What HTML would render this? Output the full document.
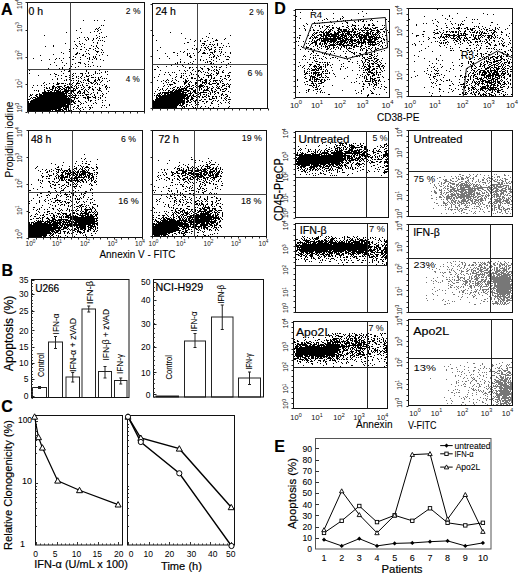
<!DOCTYPE html>
<html><head><meta charset="utf-8"><style>
html,body{margin:0;padding:0;background:#fff;width:520px;height:574px;overflow:hidden}
svg{display:block}
text{font-family:"Liberation Sans",sans-serif}
</style></head><body>
<svg width="520" height="574" viewBox="0 0 520 574">
<path d="M459 174h2m8 0h1m3 0h1m3 0h1m2 0h1m13 0h1m1 0h1m7 0h1M462 175h2m6 0h1m5 0h1m7 0h1m3 0h1m15 0h2m2 0h1M432 176h1m1 0h1m9 0h1m6 0h1m3 0h1m2 0h1m1 0h1m5 0h1m2 0h1m5 0h2m15 0h1m4 0h3M431 177h1m7 0h2m15 0h1m4 0h2m3 0h3m4 0h1m9 0h1m4 0h2m1 0h1m2 0h1m2 0h1m1 0h1m10 0h1M437 178h1m14 0h2m2 0h1m1 0h1m2 0h3m1 0h1m1 0h1m2 0h1m1 0h2m10 0h1m2 0h1m1 0h2m1 0h1m9 0h1m1 0h2M443 179h1m1 0h2m3 0h1m7 0h2m1 0h3m4 0h1m4 0h1m4 0h1m3 0h2m2 0h1m5 0h1m2 0h1m1 0h1m2 0h1m4 0h3M444 180h3m3 0h2m5 0h1m9 0h2m3 0h1m5 0h1m3 0h2m3 0h1m1 0h1m1 0h1m1 0h2m2 0h1m1 0h1m1 0h2m2 0h1M439 181h1m5 0h4m3 0h2m1 0h2m4 0h2m2 0h2m1 0h1m3 0h1m3 0h1m1 0h1m1 0h1m6 0h1m2 0h1m3 0h3m5 0h2m1 0h1m3 0h1m1 0h1M432 182h1m8 0h1m2 0h2m3 0h2m8 0h2m4 0h3m1 0h1m5 0h1m3 0h1m2 0h4m3 0h1m7 0h3m1 0h2m3 0h1m1 0h1m2 0h1M430 183h1m7 0h1m2 0h1m1 0h2m3 0h1m1 0h5m3 0h1m2 0h4m1 0h1m1 0h1m1 0h1m1 0h1m12 0h1m2 0h1m9 0h2m1 0h2m1 0h1m1 0h2m1 0h2M434 184h1m6 0h1m6 0h1m3 0h3m1 0h3m1 0h3m1 0h4m1 0h1m1 0h1m1 0h2m1 0h2m1 0h1m3 0h1m8 0h11M434 185h1m4 0h1m3 0h1m3 0h1m2 0h1m5 0h2m1 0h12m2 0h1m1 0h2m1 0h1m1 0h1m5 0h1m3 0h1m1 0h3m1 0h2m2 0h1m2 0h6M435 186h1m4 0h2m3 0h1m1 0h2m1 0h2m2 0h1m1 0h1m1 0h1m1 0h2m1 0h1m1 0h5m3 0h5m2 0h2m6 0h2m3 0h2m1 0h8m2 0h1m1 0h1m1 0h1M433 187h1m2 0h1m7 0h1m5 0h4m3 0h1m2 0h11m1 0h1m1 0h1m2 0h14m1 0h1m1 0h3m1 0h4m3 0h2m1 0h1m1 0h1M436 188h1m6 0h1m1 0h1m1 0h2m3 0h4m1 0h1m2 0h5m3 0h15m4 0h1m1 0h3m1 0h5m4 0h4m2 0h3M439 189h1m1 0h1m5 0h1m2 0h5m2 0h16m1 0h2m1 0h2m3 0h2m3 0h2m1 0h1m1 0h2m2 0h3m2 0h2m2 0h2m1 0h4M434 190h1m4 0h3m2 0h1m3 0h1m1 0h2m1 0h6m2 0h5m2 0h8m2 0h3m3 0h2m2 0h2m2 0h1m2 0h3m1 0h7m4 0h1M431 191h1m2 0h2m5 0h1m7 0h4m1 0h3m1 0h6m1 0h2m1 0h7m6 0h1m4 0h1m2 0h2m2 0h6m1 0h2m1 0h4m2 0h3M434 192h3m3 0h2m2 0h1m1 0h3m1 0h1m2 0h1m2 0h1m3 0h3m1 0h9m1 0h1m1 0h2m1 0h1m2 0h1m1 0h1m1 0h2m2 0h4m1 0h2m4 0h3m2 0h1m3 0h2M435 193h2m4 0h1m1 0h1m2 0h1m4 0h2m1 0h1m1 0h3m2 0h6m1 0h4m1 0h2m1 0h4m2 0h3m3 0h1m1 0h2m2 0h1m1 0h2m2 0h4m4 0h2M440 194h2m3 0h1m2 0h1m1 0h6m1 0h8m1 0h9m2 0h4m5 0h1m1 0h1m4 0h6m1 0h2m1 0h1m1 0h1m1 0h1M431 195h1m10 0h1m4 0h2m2 0h5m1 0h2m1 0h10m1 0h1m1 0h2m2 0h1m3 0h3m1 0h1m1 0h3m2 0h1m1 0h1m1 0h3m1 0h1m3 0h1m1 0h2m1 0h2M439 196h2m2 0h1m2 0h7m2 0h2m1 0h16m1 0h2m1 0h3m1 0h1m2 0h2m1 0h1m2 0h1m1 0h2m1 0h5m1 0h2m7 0h1M436 197h1m2 0h3m2 0h1m1 0h4m1 0h1m1 0h2m1 0h9m1 0h5m2 0h3m1 0h2m2 0h1m2 0h1m1 0h1m5 0h1m1 0h1m1 0h1m2 0h1m2 0h3m3 0h1m1 0h1M431 198h2m13 0h6m1 0h2m1 0h2m2 0h2m1 0h2m1 0h3m1 0h2m1 0h1m3 0h1m2 0h3m1 0h2m2 0h1m1 0h1m6 0h4m1 0h1m1 0h1m1 0h1m1 0h2M436 199h1m4 0h1m1 0h1m2 0h2m2 0h1m1 0h1m1 0h1m7 0h4m2 0h3m1 0h1m1 0h3m1 0h5m2 0h1m4 0h2m2 0h4m1 0h3m1 0h1m2 0h3m1 0h1M447 200h1m3 0h3m1 0h2m1 0h1m2 0h5m1 0h2m1 0h3m2 0h4m1 0h4m1 0h1m5 0h1m3 0h6m2 0h6m2 0h1M443 201h1m4 0h1m2 0h1m1 0h3m2 0h2m1 0h7m3 0h2m1 0h2m2 0h1m1 0h2m7 0h2m3 0h7m1 0h2m1 0h3m1 0h1m1 0h1M434 202h1m8 0h2m2 0h1m1 0h1m1 0h2m1 0h2m1 0h1m1 0h3m1 0h1m2 0h1m1 0h2m2 0h1m1 0h1m1 0h2m1 0h1m2 0h1m5 0h2m3 0h2m1 0h2m1 0h3m4 0h4M436 203h2m5 0h4m3 0h1m1 0h1m2 0h1m1 0h2m2 0h4m1 0h2m1 0h1m2 0h4m2 0h1m1 0h1m1 0h1m5 0h1m1 0h3m1 0h3m3 0h1m1 0h1m1 0h2m1 0h3M445 204h1m1 0h1m3 0h1m1 0h2m4 0h1m1 0h1m3 0h1m5 0h1m3 0h1m2 0h1m1 0h1m2 0h2m8 0h1m4 0h1m1 0h1m9 0h2M438 205h1m2 0h1m1 0h1m1 0h2m4 0h1m3 0h1m2 0h2m4 0h2m1 0h1m1 0h1m9 0h1m6 0h2m1 0h1m2 0h1m1 0h2m2 0h3m7 0h1M451 206h1m3 0h1m3 0h1m6 0h1m7 0h1m1 0h3m2 0h1m4 0h1m2 0h1m2 0h1m1 0h1m3 0h2m2 0h1M445 207h1m3 0h1m1 0h1m3 0h3m7 0h4m10 0h1m4 0h1m2 0h1m6 0h3m1 0h2m1 0h1m1 0h1m7 0h1M433 208h1m14 0h1m8 0h1m2 0h2m1 0h1m8 0h1m1 0h1m1 0h1m3 0h1m6 0h1m3 0h2m1 0h1m3 0h2m3 0h2m2 0h3M445 209h1m2 0h1m1 0h3m1 0h2m1 0h1m1 0h1m2 0h1m1 0h3m13 0h1m1 0h1m9 0h1m1 0h1m1 0h1m2 0h3m1 0h1m1 0h3m1 0h1m1 0h1M451 210h1m6 0h1m2 0h2m6 0h1m22 0h1m1 0h1m6 0h1m2 0h2M459 211h1m1 0h1m9 0h1m3 0h1m3 0h1m3 0h1m4 0h2m7 0h1m3 0h1m3 0h1m2 0h1M455 212h1m7 0h2m9 0h1m9 0h1m6 0h1m5 0h1m1 0h2m4 0h1M441 213h1m4 0h1m6 0h1m7 0h1m4 0h2m5 0h1m1 0h1m17 0h1m1 0h1m6 0h1m3 0h2m2 0h1M453 261h1m1 0h1m3 0h1m28 0h1m2 0h1m6 0h1m5 0h1M447 262h1m2 0h1m10 0h2m1 0h1m8 0h3m2 0h1m1 0h1m1 0h1m1 0h1m2 0h3m5 0h1m4 0h1m4 0h1m2 0h1M433 263h1m17 0h1m10 0h1m2 0h1m9 0h1m5 0h1m1 0h3m3 0h1m3 0h2m2 0h1m2 0h2m2 0h1m1 0h1m4 0h1M435 264h1m7 0h1m11 0h1m3 0h1m2 0h1m2 0h1m3 0h1m2 0h2m2 0h1m2 0h2m1 0h1m1 0h2m1 0h1m5 0h2m2 0h1m1 0h1m1 0h4m2 0h1m3 0h1M427 265h2m22 0h1m6 0h1m5 0h2m2 0h2m1 0h3m1 0h1m3 0h3m4 0h2m2 0h2m2 0h2m3 0h2m1 0h1m1 0h1m1 0h1m1 0h3M440 266h1m2 0h1m3 0h1m5 0h1m3 0h1m1 0h1m4 0h1m13 0h2m1 0h1m2 0h1m4 0h4m6 0h2m4 0h2m1 0h1M427 267h1m20 0h1m12 0h1m2 0h1m5 0h1m3 0h1m1 0h1m3 0h3m1 0h2m3 0h1m1 0h1m2 0h1m1 0h2m1 0h1m2 0h1m1 0h1m1 0h1m2 0h2M429 268h1m6 0h1m15 0h1m7 0h1m2 0h1m3 0h1m5 0h1m1 0h1m1 0h2m1 0h1m2 0h3m1 0h2m1 0h1m3 0h1m1 0h2m2 0h5m1 0h1m1 0h2M432 269h1m6 0h1m7 0h1m1 0h1m1 0h1m5 0h1m8 0h1m2 0h1m1 0h2m4 0h2m1 0h3m3 0h2m4 0h1m1 0h1m1 0h2m1 0h1m3 0h4m1 0h1M451 270h1m1 0h1m5 0h1m1 0h1m5 0h2m2 0h1m1 0h3m3 0h3m2 0h4m1 0h1m1 0h1m2 0h1m1 0h5m1 0h5M434 271h2m13 0h1m4 0h1m6 0h3m2 0h2m3 0h1m1 0h1m1 0h1m2 0h1m1 0h4m4 0h2m5 0h5m1 0h1m1 0h2m1 0h2m1 0h3M435 272h1m4 0h1m1 0h1m1 0h2m3 0h2m4 0h1m5 0h1m10 0h2m2 0h3m2 0h1m2 0h7m1 0h2m1 0h3m2 0h4m2 0h1m1 0h2m1 0h1M443 273h1m12 0h1m3 0h1m5 0h2m2 0h1m1 0h5m3 0h1m1 0h1m1 0h1m1 0h2m1 0h8m1 0h2m1 0h5m1 0h2m2 0h1M450 274h2m3 0h1m2 0h1m2 0h1m1 0h1m4 0h1m1 0h1m5 0h9m3 0h2m1 0h1m1 0h1m2 0h6m1 0h8M442 275h1m14 0h1m6 0h1m7 0h1m2 0h2m1 0h2m2 0h1m1 0h1m2 0h5m1 0h2m2 0h3m1 0h9m1 0h1M443 276h1m10 0h1m2 0h2m10 0h1m1 0h1m2 0h3m1 0h1m2 0h1m1 0h1m2 0h1m1 0h2m1 0h4m1 0h2m1 0h9m1 0h2M426 277h1m10 0h1m8 0h1m2 0h1m2 0h1m4 0h2m1 0h3m1 0h1m4 0h1m1 0h1m2 0h1m1 0h2m1 0h1m1 0h3m1 0h2m4 0h20M433 278h1m24 0h1m1 0h1m2 0h2m4 0h1m1 0h2m2 0h4m7 0h1m2 0h22M446 279h2m1 0h1m2 0h1m1 0h1m3 0h2m4 0h1m2 0h2m2 0h1m2 0h4m3 0h3m1 0h2m4 0h21M431 280h1m3 0h1m6 0h1m7 0h1m3 0h1m1 0h3m1 0h1m1 0h1m2 0h2m2 0h2m5 0h2m3 0h2m1 0h2m2 0h1m1 0h2m1 0h17m1 0h1M433 281h1m2 0h1m5 0h1m5 0h2m1 0h1m11 0h5m1 0h2m1 0h2m1 0h1m2 0h4m1 0h3m1 0h25M426 282h1m11 0h1m1 0h1m11 0h1m3 0h3m6 0h3m2 0h1m4 0h1m1 0h2m1 0h1m1 0h1m1 0h1m2 0h4m2 0h17M433 283h1m14 0h1m4 0h2m8 0h1m1 0h2m2 0h1m2 0h2m1 0h5m1 0h1m3 0h1m1 0h6m1 0h2m1 0h13m1 0h1M450 284h1m11 0h1m1 0h2m3 0h1m5 0h1m1 0h2m1 0h1m1 0h1m2 0h4m5 0h2m1 0h15M448 285h1m2 0h2m12 0h1m1 0h1m2 0h2m1 0h1m1 0h3m1 0h1m1 0h1m4 0h1m1 0h1m2 0h2m1 0h18M450 286h1m5 0h1m1 0h1m2 0h1m1 0h1m5 0h3m2 0h1m3 0h1m1 0h2m1 0h5m3 0h1m2 0h17M434 287h1m15 0h2m2 0h1m2 0h1m2 0h1m2 0h1m6 0h2m2 0h1m5 0h1m1 0h1m6 0h1m3 0h2m1 0h16M448 288h1m9 0h1m9 0h1m2 0h1m8 0h1m7 0h1m2 0h5m1 0h15M432 289h1m6 0h1m16 0h1m8 0h1m9 0h1m1 0h1m2 0h1m1 0h7m1 0h2m1 0h1m2 0h15M437 290h1m4 0h1m2 0h1m15 0h1m1 0h2m2 0h1m3 0h1m4 0h1m2 0h1m2 0h2m2 0h1m5 0h1m1 0h1m1 0h13m1 0h2M435 291h1m23 0h1m2 0h2m10 0h3m6 0h1m1 0h1m2 0h1m2 0h2m3 0h15M452 292h1m6 0h1m2 0h2m6 0h2m1 0h1m1 0h1m2 0h1m2 0h1m1 0h2m2 0h1m3 0h4m2 0h14M432 293h1m12 0h1m19 0h1m1 0h1m2 0h1m7 0h1m6 0h2m5 0h1m1 0h4m1 0h11m1 0h1M433 294h1m19 0h2m7 0h1m6 0h1m4 0h1m4 0h1m7 0h1m4 0h1m4 0h9m1 0h3M426 295h1m10 0h1m34 0h1m2 0h1m6 0h1m9 0h2m1 0h1m1 0h2m1 0h1m1 0h3m1 0h2m1 0h1m1 0h1M458 296h1m3 0h1m10 0h2m14 0h1m4 0h12m2 0h2m1 0h1M461 297h1m5 0h1m5 0h1m17 0h1m3 0h1m1 0h1m1 0h2m2 0h7m1 0h1M426 298h1m49 0h1m10 0h1m3 0h1m2 0h1m2 0h2m1 0h2m1 0h2m1 0h2m2 0h2M433 299h1m9 0h1m16 0h1m23 0h2m5 0h1m2 0h1m3 0h2m1 0h4m2 0h3M427 300h1m14 0h1m5 0h1m32 0h1m16 0h1m1 0h1m1 0h3m1 0h6M445 301h1m6 0h1m1 0h1m28 0h2m2 0h1m4 0h1m2 0h2m1 0h1m1 0h2m1 0h1m2 0h2M469 302h1m20 0h1m4 0h3m2 0h1m1 0h1m1 0h2m3 0h1M447 303h1m1 0h1m30 0h1m11 0h7m1 0h1m1 0h1m1 0h2m1 0h2M444 304h2m28 0h2m17 0h1m3 0h1m1 0h1m1 0h1m1 0h2m1 0h1M467 362h1m34 0h1m8 0h1M473 363h2m7 0h1m16 0h1M450 364h1m31 0h1m9 0h1m3 0h1m10 0h1m1 0h1M460 365h1m19 0h1m11 0h2m7 0h1m4 0h1m1 0h1M444 366h1m3 0h1m15 0h1m19 0h1m7 0h1m7 0h1m5 0h1M456 367h1m11 0h1m5 0h2m8 0h1m12 0h1m1 0h1m7 0h1m1 0h3M451 368h2m27 0h1m2 0h1m2 0h1m2 0h1m5 0h1m2 0h2m1 0h1m4 0h2M446 369h1m10 0h1m6 0h1m13 0h1m11 0h1m11 0h1m4 0h1M446 370h1m21 0h1m4 0h2m4 0h1m10 0h1m7 0h3m2 0h5M457 371h1m1 0h1m2 0h1m10 0h1m15 0h2m1 0h3m2 0h1m1 0h1m1 0h1m2 0h2m2 0h2M452 372h1m8 0h1m7 0h1m8 0h1m3 0h1m1 0h1m1 0h1m8 0h2m4 0h2m4 0h4M464 373h1m29 0h1m2 0h3m1 0h2m3 0h1m2 0h2M461 374h1m9 0h1m1 0h1m5 0h1m6 0h1m4 0h1m9 0h5m1 0h2m2 0h1M455 375h1m2 0h1m7 0h1m3 0h1m9 0h1m2 0h1m8 0h3m4 0h2m4 0h6M455 376h1m4 0h1m16 0h1m5 0h1m7 0h1m4 0h1m3 0h2m1 0h1m1 0h1M464 377h1m6 0h1m1 0h1m12 0h1m3 0h1m5 0h2m2 0h4m1 0h1m1 0h2m1 0h1M430 378h1m32 0h1m3 0h1m4 0h1m1 0h1m4 0h1m10 0h1m7 0h1m2 0h3m1 0h3m1 0h2M446 379h1m26 0h2m7 0h1m8 0h1m2 0h2m3 0h4m1 0h4m1 0h1M458 380h1m9 0h1m3 0h1m2 0h2m7 0h1m6 0h1m3 0h4m1 0h7m1 0h1m1 0h1M456 381h1m5 0h1m2 0h2m4 0h1m4 0h1m3 0h1m4 0h1m2 0h1m5 0h1m1 0h5m2 0h4m1 0h1m1 0h1M456 382h1m1 0h1m11 0h1m13 0h1m4 0h1m2 0h1m2 0h8m1 0h2m1 0h5M456 383h1m7 0h1m5 0h1m6 0h2m5 0h1m7 0h3m3 0h5m1 0h3m1 0h1m1 0h2M451 384h1m11 0h1m1 0h1m8 0h1m4 0h1m1 0h1m6 0h1m7 0h1m1 0h9m2 0h3M458 385h1m2 0h1m11 0h1m5 0h1m8 0h1m4 0h1m1 0h1m1 0h1m2 0h9m1 0h2M455 386h1m8 0h2m6 0h1m3 0h1m2 0h2m5 0h1m1 0h1m1 0h2m1 0h9m1 0h9M469 387h1m8 0h1m5 0h1m4 0h1m2 0h1m3 0h1m2 0h4m1 0h8M471 388h1m1 0h1m12 0h1m1 0h1m1 0h1m3 0h2m3 0h13M455 389h1m1 0h1m14 0h2m1 0h1m2 0h1m8 0h1m2 0h1m1 0h1m7 0h2m1 0h5m1 0h3M448 390h1m4 0h1m5 0h1m8 0h1m4 0h2m1 0h1m1 0h1m1 0h1m2 0h1m9 0h1m1 0h2m1 0h11m1 0h1M479 391h1m1 0h1m1 0h1m5 0h4m3 0h2m1 0h12M451 392h2m3 0h1m1 0h2m8 0h1m7 0h1m5 0h1m2 0h1m2 0h2m2 0h1m1 0h1m1 0h1m3 0h10m1 0h1M454 393h1m17 0h1m11 0h3m4 0h1m1 0h1m1 0h3m1 0h13M467 394h1m8 0h1m6 0h1m3 0h1m2 0h2m4 0h16M454 395h1m17 0h1m12 0h1m5 0h1m4 0h6m1 0h6m2 0h1M459 396h1m5 0h1m1 0h1m19 0h1m5 0h1m1 0h1m1 0h3m2 0h5m2 0h1m1 0h1M444 397h1m18 0h1m2 0h1m13 0h1m13 0h1m1 0h4m2 0h10M450 398h1m10 0h1m2 0h1m4 0h1m13 0h1m1 0h1m1 0h1m4 0h2m4 0h2m1 0h8m1 0h2M464 399h1m8 0h1m3 0h1m8 0h1m2 0h2m1 0h1m2 0h5m1 0h1m2 0h2m2 0h4M446 400h1m4 0h1m27 0h1m6 0h1m6 0h1m3 0h1m1 0h2m1 0h10M452 401h1m16 0h1m12 0h1m12 0h1m1 0h2m1 0h1m1 0h2m1 0h3m1 0h1m1 0h1M462 402h2m9 0h1m2 0h1m5 0h2m12 0h2m2 0h1m3 0h5m2 0h1M447 403h1m3 0h1m21 0h1m11 0h1m12 0h1m1 0h7m1 0h3M461 404h1m3 0h1m8 0h1m12 0h1m5 0h1m2 0h2m2 0h2m1 0h1m2 0h2m1 0h1" stroke="#777" stroke-width="1" fill="none" transform="translate(0,0.5)" shape-rendering="crispEdges"/>
<path d="M437 9h1M312 10h1M362 11h1M300 12h1M333 13h1m24 0h1m7 0h1m90 0h1m25 0h1M487 14h1m5 0h1M442 15h1m6 0h1M296 16h1m45 0h1m20 0h1m60 0h1m24 0h1M343 17h1m122 0h1M300 18h1m25 0h1m6 0h1m6 0h1m1 0h1m102 0h1m6 0h1M324 19h1m2 0h1m12 0h1m10 0h1m19 0h1m14 0h1m22 0h1m25 0h1m11 0h1m24 0h1m1 0h1m2 0h1M83 20h1m10 0h1m2 0h1m6 0h1m213 0h1m3 0h1m14 0h1m5 0h1m1 0h1m1 0h1m10 0h1m1 0h1m2 0h1m6 0h1m1 0h1m59 0h1m31 0h1M330 21h1m10 0h1m3 0h1m8 0h1m3 0h1m3 0h2m2 0h1m10 0h1m10 0h1m48 0h1m12 0h1m11 0h1M314 22h1m7 0h1m1 0h1m6 0h1m14 0h2m7 0h1m82 0h1m33 0h1m18 0h2M306 23h1m8 0h1m1 0h1m1 0h1m14 0h1m7 0h1m4 0h1m24 0h1m50 0h1m2 0h1m6 0h1m11 0h1m5 0h1m3 0h1m5 0h1m17 0h1m31 0h1M307 24h1m44 0h1m11 0h1m3 0h2m3 0h1m42 0h1m35 0h1m5 0h1m1 0h1m1 0h2m33 0h1M101 25h1m1 0h1m199 0h1m11 0h1m3 0h1m4 0h1m4 0h1m2 0h1m14 0h1m4 0h4m2 0h1m5 0h1m3 0h2m2 0h3m7 0h1m1 0h1m31 0h1m19 0h1m9 0h1m11 0h1m1 0h1m29 0h1m18 0h1M304 26h1m14 0h1m2 0h1m3 0h3m13 0h2m4 0h1m2 0h1m3 0h1m7 0h1m73 0h1m36 0h1m1 0h1m1 0h1m3 0h1M99 27h1m212 0h1m9 0h1m4 0h1m1 0h1m2 0h2m2 0h1m2 0h1m6 0h2m6 0h1m8 0h1m1 0h1m1 0h1m4 0h1m2 0h3m6 0h1m61 0h2m5 0h1m4 0h2m6 0h2m10 0h1m6 0h1m9 0h1m3 0h1M80 28h1m15 0h1m1 0h1m200 0h1m4 0h1m5 0h1m9 0h1m5 0h1m5 0h2m3 0h3m8 0h1m3 0h1m1 0h2m2 0h1m2 0h1m2 0h5m1 0h1m2 0h3m7 0h1m57 0h1m9 0h1m2 0h1m1 0h4m1 0h1m2 0h2m1 0h1m2 0h1m1 0h3m4 0h1m3 0h1m5 0h1m5 0h1m1 0h1m9 0h1M95 29h1m1 0h1m2 0h1m204 0h1m7 0h1m11 0h1m2 0h1m1 0h2m6 0h4m1 0h4m2 0h1m2 0h2m1 0h2m1 0h1m1 0h1m4 0h1m3 0h3m5 0h1m2 0h3m2 0h1m50 0h2m11 0h1m8 0h1m8 0h2m1 0h3m8 0h1m2 0h1m1 0h2m4 0h1m2 0h1m2 0h1m6 0h1M76 30h1m21 0h1m206 0h1m4 0h1m2 0h2m2 0h2m5 0h1m4 0h2m1 0h1m4 0h2m1 0h2m1 0h4m1 0h1m3 0h2m5 0h1m1 0h4m1 0h3m2 0h4m1 0h3m8 0h1m46 0h1m8 0h1m15 0h1m5 0h1m5 0h2m2 0h1m3 0h1m6 0h1m2 0h3m1 0h2M94 31h1m2 0h1m222 0h2m1 0h1m2 0h1m1 0h3m3 0h1m3 0h2m1 0h12m1 0h2m1 0h1m4 0h1m4 0h1m2 0h2m5 0h3m3 0h2m38 0h2m14 0h1m6 0h2m1 0h1m1 0h3m1 0h2m1 0h1m1 0h1m3 0h2m3 0h1m4 0h1m2 0h1m2 0h1m1 0h1m4 0h1m6 0h2m5 0h1M66 32h1m14 0h1m8 0h1m10 0h1m68 0h1m143 0h1m1 0h2m1 0h1m1 0h3m1 0h5m4 0h2m1 0h4m1 0h1m1 0h1m2 0h3m1 0h1m1 0h3m3 0h2m2 0h2m1 0h3m1 0h1m1 0h2m2 0h3m1 0h1m3 0h1m3 0h1m44 0h2m2 0h1m2 0h1m2 0h1m2 0h1m3 0h1m1 0h2m1 0h2m1 0h1m5 0h1m5 0h1m1 0h3m1 0h2m1 0h1m1 0h2m1 0h1m6 0h1m1 0h2m1 0h1m4 0h2M99 33h1m81 0h1m27 0h1m103 0h1m1 0h2m6 0h2m1 0h3m1 0h2m2 0h5m3 0h2m1 0h5m4 0h1m2 0h3m5 0h6m1 0h1m2 0h1m1 0h1m1 0h1m32 0h1m22 0h4m3 0h1m15 0h1m1 0h2m1 0h3m10 0h1m2 0h1m1 0h1m1 0h4m1 0h1m3 0h2m15 0h1M312 34h1m1 0h1m4 0h3m1 0h2m1 0h13m1 0h4m1 0h1m1 0h5m1 0h5m1 0h4m1 0h1m1 0h3m1 0h1m1 0h5m1 0h1m3 0h1m39 0h2m10 0h1m6 0h1m2 0h6m3 0h2m2 0h2m2 0h1m1 0h1m1 0h3m3 0h1m1 0h1m6 0h2m10 0h1m1 0h1m6 0h1m4 0h1M44 35h1m51 0h1m56 0h1m76 0h1m68 0h2m7 0h1m3 0h2m3 0h2m1 0h2m1 0h7m1 0h6m1 0h2m1 0h6m1 0h1m1 0h2m1 0h1m1 0h2m1 0h2m1 0h8m2 0h1m1 0h1m1 0h1m1 0h1m1 0h1m5 0h2m29 0h3m22 0h1m4 0h1m1 0h9m1 0h8m5 0h1m1 0h1m1 0h2m1 0h3m1 0h2m1 0h1m1 0h5m2 0h1m2 0h1m8 0h1M99 36h1m6 0h1m99 0h1m104 0h1m2 0h1m1 0h1m4 0h3m1 0h2m1 0h11m1 0h3m1 0h3m2 0h1m1 0h2m1 0h1m1 0h1m1 0h4m1 0h4m1 0h7m1 0h1m2 0h1m2 0h1m33 0h1m6 0h1m16 0h2m1 0h1m1 0h3m1 0h1m3 0h2m2 0h3m5 0h1m7 0h1m1 0h1m2 0h1m2 0h1m2 0h1m3 0h2m1 0h2m2 0h1m12 0h1M79 37h1m4 0h1m2 0h1m9 0h1m4 0h1m1 0h1m92 0h1m10 0h1m88 0h1m1 0h1m10 0h1m1 0h1m1 0h4m2 0h1m2 0h1m1 0h3m2 0h1m2 0h3m1 0h4m1 0h3m1 0h1m1 0h1m1 0h4m2 0h2m1 0h8m1 0h5m1 0h7m47 0h1m4 0h2m3 0h1m1 0h1m1 0h3m1 0h1m1 0h1m1 0h1m2 0h1m2 0h1m1 0h2m1 0h1m2 0h1m1 0h1m2 0h2m3 0h2m2 0h1m1 0h1m1 0h1m4 0h3m1 0h1m1 0h1m1 0h1m1 0h1m2 0h1M77 38h1m10 0h1m4 0h1m2 0h1m2 0h1m85 0h1m16 0h1m9 0h1m12 0h1m73 0h1m9 0h2m2 0h1m1 0h1m3 0h24m1 0h4m2 0h2m7 0h4m1 0h3m2 0h2m1 0h5m1 0h1m2 0h1m1 0h1m45 0h1m5 0h1m3 0h1m4 0h1m6 0h5m1 0h1m1 0h2m3 0h4m6 0h3m1 0h2m8 0h1m1 0h2m2 0h1m4 0h1m2 0h1m6 0h1M85 39h1m2 0h1m4 0h1m96 0h1m25 0h1m7 0h1m87 0h1m4 0h3m1 0h1m1 0h14m1 0h3m1 0h2m1 0h8m1 0h2m1 0h2m1 0h2m1 0h10m1 0h4m5 0h2m1 0h1m41 0h1m16 0h2m7 0h1m2 0h2m1 0h1m2 0h1m3 0h1m4 0h3m1 0h2m1 0h1m5 0h2m2 0h1m13 0h1M86 40h1m5 0h1m5 0h1m1 0h1m1 0h1m53 0h1m38 0h1m4 0h1m6 0h1m7 0h3m94 0h1m1 0h1m1 0h2m1 0h1m1 0h8m1 0h7m3 0h7m1 0h1m1 0h7m1 0h1m1 0h2m1 0h2m2 0h5m2 0h2m5 0h1m2 0h1m55 0h1m2 0h2m8 0h1m1 0h2m2 0h1m3 0h2m1 0h1m1 0h2m10 0h1m5 0h1m2 0h1m3 0h2m6 0h1m8 0h1M74 41h1m4 0h1m24 0h1m89 0h1m5 0h1m3 0h2m7 0h1m82 0h1m1 0h1m4 0h1m5 0h1m1 0h1m2 0h3m4 0h5m1 0h9m1 0h9m1 0h1m1 0h4m1 0h2m1 0h3m1 0h1m1 0h3m2 0h7m2 0h2m1 0h2m6 0h1m30 0h1m3 0h1m11 0h1m1 0h1m9 0h1m8 0h2m2 0h1m3 0h1m5 0h1m4 0h3m1 0h2m1 0h1m1 0h1m2 0h1m6 0h1m3 0h1m3 0h1M93 42h1m3 0h1m89 0h2m8 0h1m12 0h1m101 0h5m3 0h1m3 0h2m1 0h1m2 0h2m1 0h2m1 0h3m1 0h3m1 0h4m1 0h1m1 0h2m3 0h10m1 0h9m3 0h1m2 0h1m1 0h1m46 0h1m7 0h1m1 0h1m1 0h1m1 0h2m1 0h1m5 0h1m5 0h1m6 0h1m2 0h2m3 0h1m1 0h1m8 0h2m3 0h1m12 0h1m4 0h1M65 43h1m13 0h1m2 0h1m14 0h1m86 0h1m17 0h3m12 0h1m3 0h1m6 0h1m77 0h1m1 0h1m2 0h2m2 0h2m2 0h2m1 0h1m1 0h3m2 0h1m3 0h1m1 0h1m1 0h1m1 0h3m1 0h2m1 0h1m2 0h2m1 0h4m2 0h2m1 0h3m1 0h1m2 0h1m1 0h1m1 0h1m2 0h1m1 0h2m3 0h1m4 0h1m26 0h1m25 0h2m1 0h1m1 0h1m12 0h1m3 0h1m5 0h1m12 0h1m3 0h1m2 0h2m9 0h1m1 0h1m1 0h1m6 0h1M75 44h1m4 0h1m3 0h1m119 0h1m4 0h2m1 0h1m1 0h1m2 0h1m86 0h1m5 0h1m4 0h2m2 0h2m1 0h1m1 0h1m1 0h1m3 0h5m1 0h8m3 0h2m2 0h2m3 0h1m1 0h1m2 0h1m3 0h1m2 0h9m2 0h1m32 0h1m2 0h1m5 0h1m25 0h1m7 0h1m4 0h1m12 0h1m3 0h1m11 0h2m4 0h1m3 0h1m2 0h1m5 0h1M53 45h1m22 0h1m14 0h1m4 0h1m5 0h1m91 0h1m6 0h1m1 0h1m2 0h1m6 0h1m3 0h1m5 0h1m74 0h1m10 0h1m5 0h1m1 0h1m3 0h1m3 0h1m2 0h8m3 0h2m1 0h11m1 0h3m4 0h2m7 0h1m1 0h3m3 0h1m2 0h1m3 0h1m29 0h1m23 0h1m4 0h1m24 0h2m5 0h1m1 0h1m2 0h1m8 0h1m3 0h3m5 0h3M45 46h1m7 0h1m23 0h1m3 0h1m11 0h1m2 0h1m111 0h1m2 0h1m14 0h1m2 0h1m71 0h1m4 0h1m6 0h1m3 0h1m3 0h1m1 0h1m1 0h3m1 0h1m3 0h1m3 0h1m3 0h1m1 0h2m1 0h1m4 0h1m1 0h2m1 0h3m1 0h2m3 0h1m2 0h2m10 0h1m1 0h1m45 0h1m11 0h1m9 0h1m35 0h2m15 0h1m2 0h1M84 47h1m12 0h1m62 0h1m40 0h1m2 0h2m1 0h1m6 0h2m3 0h2m1 0h1m79 0h1m3 0h3m10 0h1m5 0h1m1 0h1m1 0h1m3 0h2m1 0h1m1 0h1m2 0h1m2 0h1m1 0h1m2 0h1m3 0h2m5 0h1m5 0h1m5 0h1m2 0h1m6 0h1m3 0h1m59 0h1m12 0h1m16 0h1m3 0h1m13 0h1m16 0h1M73 48h1m2 0h1m12 0h2m4 0h1m2 0h1m93 0h1m3 0h1m8 0h1m2 0h1m2 0h1m98 0h2m5 0h1m3 0h1m5 0h2m2 0h1m1 0h1m4 0h1m1 0h1m5 0h1m1 0h4m9 0h1m1 0h2m3 0h2m1 0h1m3 0h1m1 0h2m46 0h1m24 0h1m1 0h1m13 0h2m2 0h1m3 0h1m5 0h1m5 0h1m1 0h2m1 0h1m1 0h1M69 49h1m10 0h2m4 0h1m6 0h1m7 0h1m85 0h1m6 0h1m1 0h1m3 0h1m5 0h1m2 0h3m3 0h1m3 0h1m1 0h1m78 0h1m4 0h1m5 0h1m2 0h1m3 0h1m7 0h2m2 0h1m4 0h1m4 0h1m6 0h1m5 0h1m6 0h1m1 0h1m3 0h1m3 0h1m4 0h2m3 0h1m98 0h1m14 0h1m1 0h1m2 0h1m1 0h1m8 0h1M88 50h1m6 0h1m6 0h1m54 0h1m39 0h1m2 0h1m3 0h1m4 0h1m4 0h1m133 0h1m11 0h1m1 0h1m3 0h2m3 0h1m2 0h1m9 0h1m36 0h1m28 0h2m1 0h1m6 0h2m5 0h2m2 0h1m2 0h1m2 0h1m30 0h1m1 0h1M69 51h1m15 0h1m10 0h3m81 0h1m3 0h1m14 0h1m14 0h2m3 0h1m1 0h1m86 0h1m3 0h2m4 0h2m6 0h1m4 0h1m1 0h1m9 0h1m2 0h1m2 0h2m15 0h1m7 0h1m6 0h1m37 0h1m12 0h1m30 0h1m1 0h1m11 0h1m9 0h1m3 0h1m4 0h1m7 0h2m5 0h1M61 52h1m15 0h1m19 0h1m3 0h1m1 0h1m69 0h2m8 0h1m13 0h2m4 0h2m5 0h3m1 0h1m6 0h1m3 0h1m4 0h1m82 0h1m11 0h1m25 0h2m1 0h1m1 0h1m8 0h2m2 0h1m4 0h1m94 0h1m20 0h1m6 0h1m3 0h2m2 0h1M63 53h1m12 0h2m1 0h1m6 0h1m1 0h1m76 0h1m11 0h1m9 0h1m1 0h1m3 0h1m8 0h4m1 0h1m4 0h1m7 0h1m9 0h1m80 0h1m4 0h1m5 0h1m1 0h1m5 0h1m3 0h1m10 0h1m7 0h2m4 0h2m10 0h1m5 0h1m99 0h1m2 0h2m3 0h2m10 0h1m4 0h2m3 0h1M53 54h1m21 0h2m6 0h1m5 0h1m6 0h1m5 0h1m84 0h1m9 0h1m12 0h1m2 0h1m9 0h1m86 0h1m13 0h1m1 0h1m2 0h1m24 0h1m5 0h2m3 0h3m1 0h3m2 0h1m92 0h1m1 0h2m6 0h1m3 0h1m1 0h1m4 0h2m5 0h1m1 0h1m5 0h1m3 0h2M40 55h1m41 0h2m15 0h1m7 0h1m69 0h1m9 0h1m2 0h1m3 0h1m14 0h1m4 0h1m2 0h1m2 0h1m83 0h1m8 0h1m1 0h1m1 0h2m10 0h1m10 0h1m15 0h1m1 0h1m3 0h1m8 0h2m4 0h1m36 0h1m25 0h1m20 0h1m13 0h2m4 0h1m17 0h1m1 0h1m4 0h1m4 0h1M73 56h1m11 0h1m7 0h1m1 0h1m71 0h1m21 0h2m10 0h1m11 0h2m3 0h1m6 0h1m1 0h2m74 0h1m1 0h1m17 0h1m21 0h2m5 0h1m3 0h2m1 0h1m2 0h1m6 0h2m3 0h1m1 0h1m41 0h1m58 0h1m3 0h1m1 0h1m2 0h2m4 0h3m2 0h2m1 0h2m1 0h1m2 0h2m1 0h1M69 57h1m5 0h1m4 0h1m8 0h1m3 0h1m1 0h1m94 0h2m17 0h1m1 0h1m1 0h1m2 0h1m12 0h1m80 0h1m2 0h1m1 0h1m9 0h1m6 0h2m1 0h1m5 0h1m4 0h1m16 0h2m2 0h1m3 0h1m1 0h1m100 0h1m7 0h1m1 0h1m3 0h1m1 0h3m2 0h3m2 0h2M33 58h1m22 0h1m2 0h1m3 0h1m23 0h1m1 0h1m4 0h1m1 0h1m62 0h1m9 0h1m46 0h1m96 0h1m5 0h1m1 0h1m4 0h1m3 0h1m6 0h1m6 0h1m17 0h1m1 0h1m3 0h4m2 0h3m5 0h1m41 0h1m11 0h1m42 0h2m3 0h1m1 0h1m1 0h1m1 0h1m2 0h1m2 0h2m3 0h2m5 0h1M49 59h1m5 0h1m16 0h2m6 0h1m8 0h1m2 0h1m3 0h1m3 0h1m79 0h1m14 0h1m4 0h1m5 0h1m4 0h1m7 0h1m6 0h3m73 0h1m2 0h1m3 0h1m6 0h1m5 0h1m24 0h1m2 0h1m14 0h3m6 0h1m2 0h2m57 0h1m22 0h1m9 0h2m3 0h1m3 0h1m5 0h1m3 0h2m3 0h2m5 0h2m1 0h2m1 0h1m3 0h1M41 60h1m19 0h1m41 0h1m96 0h1m2 0h1m9 0h1m100 0h1m24 0h1m21 0h1m3 0h1m2 0h2m1 0h2m3 0h2m3 0h1m56 0h1m3 0h1m43 0h1m3 0h1m3 0h1m1 0h5m3 0h1m2 0h1M88 61h1m91 0h1m12 0h1m13 0h1m1 0h2m5 0h1m6 0h1m91 0h3m30 0h2m7 0h1m4 0h1m2 0h1m3 0h1m3 0h1m1 0h2m2 0h1m34 0h1m14 0h1m38 0h1m1 0h2m12 0h1m1 0h3m4 0h5m3 0h1m5 0h1m1 0h1M54 62h1m7 0h1m15 0h3m11 0h1m84 0h1m2 0h1m3 0h1m5 0h1m14 0h1m1 0h1m3 0h1m9 0h1m8 0h1m68 0h1m7 0h1m4 0h1m6 0h2m1 0h1m1 0h2m1 0h1m1 0h1m22 0h1m9 0h1m1 0h1m2 0h2m5 0h1m2 0h1m2 0h1m71 0h1m15 0h1m2 0h1m1 0h1m7 0h1m2 0h1m2 0h1m1 0h3m1 0h2m3 0h1m1 0h1m3 0h3m1 0h2m1 0h1M66 63h1m8 0h1m4 0h1m3 0h1m90 0h1m1 0h1m10 0h1m3 0h1m17 0h2m1 0h1m14 0h1m87 0h1m10 0h1m15 0h1m13 0h1m5 0h1m5 0h1m1 0h3m1 0h2m4 0h1m3 0h1m46 0h1m3 0h1m24 0h2m5 0h1m3 0h2m6 0h1m2 0h1m3 0h1m3 0h1m4 0h2m1 0h1m2 0h1m1 0h1m3 0h2M50 64h1m21 0h1m12 0h1m2 0h1m86 0h1m20 0h1m1 0h1m12 0h1m11 0h1m85 0h3m5 0h3m3 0h1m1 0h1m1 0h2m3 0h1m8 0h1m21 0h1m1 0h1m1 0h1m1 0h1m2 0h2m3 0h2m1 0h1m59 0h1m29 0h1m9 0h2m2 0h2m3 0h2m2 0h3m2 0h1m2 0h1m1 0h1m1 0h1M56 65h1m7 0h1m28 0h1m77 0h1m10 0h1m43 0h1m73 0h1m3 0h1m5 0h1m3 0h2m3 0h1m5 0h1m1 0h1m2 0h1m28 0h1m3 0h1m4 0h2m8 0h2m2 0h2m45 0h1m23 0h1m5 0h1m2 0h1m8 0h2m1 0h1m5 0h1m2 0h2m3 0h1m2 0h2m1 0h1m1 0h2m3 0h1m1 0h1m3 0h2M71 66h1m6 0h1m6 0h1m2 0h1m1 0h1m6 0h1m2 0h1m56 0h1m8 0h1m10 0h1m5 0h1m20 0h1m6 0h1m2 0h1m1 0h1m4 0h1m8 0h1m67 0h1m4 0h1m5 0h1m3 0h4m1 0h1m1 0h2m1 0h1m1 0h1m15 0h1m1 0h1m18 0h1m1 0h2m2 0h3m1 0h2m2 0h4m1 0h2m1 0h1m49 0h1m7 0h1m18 0h1m9 0h2m2 0h1m3 0h2m1 0h1m1 0h1m4 0h2m3 0h1m3 0h3m1 0h1m2 0h1m3 0h1m1 0h1M62 67h1m12 0h1m82 0h1m26 0h1m3 0h2m1 0h1m3 0h1m3 0h1m11 0h1m3 0h1m2 0h2m5 0h1m75 0h1m11 0h1m1 0h1m2 0h3m3 0h1m5 0h1m15 0h1m11 0h1m4 0h1m1 0h1m2 0h2m8 0h1m3 0h1m47 0h1m1 0h1m7 0h1m29 0h1m4 0h1m7 0h1m2 0h3m1 0h2m1 0h3m1 0h1m3 0h1m1 0h1m5 0h1M48 68h1m10 0h1m2 0h1m6 0h1m119 0h1m11 0h2m4 0h2m95 0h1m3 0h1m2 0h1m3 0h1m1 0h3m1 0h1m18 0h1m4 0h1m15 0h1m1 0h1m3 0h3m3 0h2m1 0h2m2 0h1m2 0h1m43 0h1m9 0h1m12 0h1m16 0h1m3 0h1m2 0h2m5 0h1m3 0h4m1 0h1m2 0h1m2 0h4m1 0h1m1 0h1m1 0h1m1 0h2M72 69h1m3 0h1m6 0h2m10 0h2m6 0h1m50 0h2m37 0h1m8 0h1m5 0h2m4 0h1m1 0h1m2 0h1m87 0h1m1 0h1m2 0h5m1 0h1m1 0h2m1 0h1m2 0h1m13 0h1m24 0h5m2 0h3m5 0h1m53 0h1m18 0h1m18 0h1m5 0h2m5 0h2m3 0h1m3 0h1m1 0h3m3 0h3m5 0h2M29 70h1m34 0h1m4 0h1m16 0h1m12 0h1m60 0h1m18 0h1m4 0h1m2 0h1m4 0h1m4 0h3m8 0h1m2 0h1m1 0h1m2 0h2m5 0h1m80 0h1m6 0h4m1 0h3m6 0h1m1 0h1m4 0h1m19 0h1m6 0h1m3 0h1m1 0h1m1 0h1m1 0h1m1 0h2m3 0h1m4 0h1m2 0h1m42 0h1m7 0h2m1 0h1m7 0h1m13 0h1m10 0h1m1 0h2m2 0h1m2 0h5m2 0h2m1 0h6m1 0h1m3 0h1m3 0h1m1 0h1M61 71h1m6 0h2m16 0h1m8 0h1m9 0h1m1 0h1m77 0h1m9 0h1m1 0h2m1 0h1m2 0h1m10 0h1m3 0h1m3 0h1m81 0h1m2 0h1m1 0h1m5 0h1m6 0h2m1 0h1m1 0h1m40 0h3m5 0h1m5 0h1m31 0h1m9 0h1m6 0h1m5 0h1m11 0h1m17 0h1m6 0h1m1 0h1m2 0h2m2 0h3m1 0h2m1 0h2m2 0h4m1 0h2m1 0h3m2 0h1m2 0h2M88 72h1m6 0h1m5 0h1m3 0h1m59 0h1m2 0h1m3 0h1m1 0h1m15 0h1m10 0h1m3 0h1m1 0h1m8 0h1m1 0h1m3 0h2m5 0h2m73 0h1m1 0h1m4 0h1m1 0h7m2 0h1m6 0h1m33 0h2m1 0h1m1 0h5m1 0h1m1 0h2m1 0h2m89 0h1m2 0h1m1 0h1m3 0h2m1 0h5m1 0h2m1 0h1m1 0h5m4 0h1m2 0h1m1 0h1M29 73h1m24 0h1m8 0h1m9 0h1m1 0h1m4 0h3m2 0h1m2 0h1m6 0h1m1 0h1m1 0h1m81 0h1m1 0h1m1 0h1m5 0h1m16 0h1m2 0h1m4 0h3m9 0h1m76 0h3m1 0h1m1 0h1m1 0h4m1 0h1m2 0h1m1 0h1m1 0h3m1 0h1m3 0h1m33 0h1m3 0h3m2 0h1m49 0h1m7 0h1m1 0h3m26 0h1m3 0h1m2 0h2m3 0h1m1 0h1m2 0h1m1 0h3m2 0h2m1 0h3m1 0h3m2 0h5m2 0h1M50 74h1m4 0h2m15 0h1m9 0h1m10 0h1m13 0h1m51 0h1m4 0h1m4 0h1m6 0h1m14 0h1m1 0h1m2 0h1m7 0h1m5 0h1m2 0h1m3 0h1m86 0h2m7 0h1m1 0h1m1 0h5m12 0h1m22 0h1m4 0h1m4 0h3m3 0h2m1 0h1m1 0h1m1 0h1m47 0h1m1 0h1m4 0h1m5 0h1m26 0h1m5 0h2m1 0h1m1 0h1m1 0h5m2 0h3m1 0h7m2 0h1m1 0h2m2 0h2m1 0h1M38 75h1m19 0h1m2 0h1m7 0h1m3 0h1m8 0h1m3 0h1m2 0h1m1 0h1m78 0h1m10 0h1m1 0h1m5 0h1m8 0h1m7 0h6m4 0h1m8 0h1m1 0h3m79 0h1m1 0h1m3 0h1m1 0h3m1 0h1m3 0h1m34 0h1m4 0h1m2 0h1m3 0h3m3 0h1m38 0h1m12 0h1m6 0h1m1 0h1m4 0h1m15 0h2m6 0h1m2 0h1m1 0h2m6 0h4m1 0h8m1 0h6m1 0h2m5 0h2M55 76h1m9 0h2m5 0h1m3 0h1m1 0h1m2 0h1m4 0h3m12 0h1m56 0h1m17 0h1m4 0h1m4 0h1m11 0h1m9 0h1m2 0h1m8 0h2m3 0h1m3 0h1m75 0h1m4 0h5m2 0h1m3 0h1m4 0h1m8 0h1m11 0h1m14 0h1m1 0h1m1 0h1m3 0h1m1 0h1m9 0h1m32 0h1m17 0h3m19 0h1m4 0h1m3 0h1m1 0h1m1 0h1m1 0h1m2 0h1m1 0h2m7 0h1m1 0h5m1 0h2m1 0h1m2 0h2m1 0h1m2 0h1m4 0h2M69 77h1m6 0h1m3 0h1m3 0h1m6 0h3m1 0h1m2 0h1m1 0h1m53 0h1m20 0h1m4 0h2m9 0h2m6 0h1m3 0h1m4 0h1m2 0h1m2 0h1m13 0h1m75 0h1m5 0h1m1 0h4m3 0h2m1 0h2m1 0h1m1 0h2m30 0h1m4 0h1m1 0h1m3 0h1m6 0h3m3 0h1m27 0h1m17 0h1m3 0h1m9 0h1m18 0h1m1 0h1m5 0h1m2 0h1m3 0h1m3 0h1m2 0h3m1 0h1m1 0h1m1 0h1m2 0h3m1 0h1m1 0h1m1 0h2M57 78h1m3 0h1m8 0h1m1 0h2m4 0h1m2 0h1m6 0h1m9 0h1m3 0h1m1 0h1m1 0h1m65 0h1m10 0h1m3 0h1m3 0h2m1 0h2m5 0h1m9 0h1m1 0h2m5 0h1m3 0h2m79 0h2m3 0h1m1 0h1m1 0h1m1 0h2m26 0h1m11 0h1m7 0h1m1 0h1m3 0h3m1 0h2m58 0h1m35 0h1m4 0h3m1 0h3m1 0h1m2 0h1m1 0h3m1 0h3m2 0h3m4 0h1m2 0h1M52 79h1m4 0h1m8 0h1m2 0h2m13 0h1m2 0h2m6 0h1m2 0h2m67 0h1m7 0h1m9 0h1m14 0h3m2 0h2m3 0h1m11 0h1m3 0h1m3 0h1m66 0h1m11 0h2m1 0h1m1 0h6m1 0h2m1 0h1m2 0h1m1 0h1m36 0h2m2 0h1m1 0h3m4 0h1m8 0h1m41 0h1m5 0h1m3 0h1m8 0h1m9 0h1m4 0h1m2 0h2m1 0h1m2 0h1m3 0h2m1 0h3m4 0h1m3 0h3m1 0h3m3 0h1m4 0h1m3 0h1M64 80h1m1 0h1m4 0h1m1 0h1m2 0h1m1 0h1m4 0h1m1 0h1m1 0h2m5 0h2m1 0h1m1 0h1m2 0h1m6 0h1m47 0h1m5 0h1m2 0h1m1 0h1m3 0h1m3 0h1m8 0h2m1 0h1m7 0h1m1 0h3m3 0h3m2 0h1m3 0h5m1 0h1m1 0h1m7 0h1m67 0h1m11 0h2m3 0h1m1 0h1m3 0h2m2 0h2m39 0h1m4 0h1m1 0h1m1 0h3m1 0h2m57 0h1m3 0h1m4 0h2m1 0h1m18 0h1m4 0h1m6 0h1m1 0h4m2 0h4m1 0h1m1 0h1m1 0h1m2 0h1m1 0h1m7 0h1M78 81h1m1 0h1m7 0h2m4 0h2m5 0h1m5 0h1m53 0h1m3 0h1m5 0h1m6 0h1m4 0h1m1 0h3m2 0h1m9 0h1m1 0h1m2 0h2m3 0h1m2 0h1m1 0h1m4 0h1m1 0h1m83 0h2m3 0h2m1 0h3m1 0h1m1 0h2m2 0h1m31 0h1m5 0h1m2 0h6m1 0h2m1 0h1m2 0h1m1 0h1m3 0h1m51 0h1m6 0h1m7 0h1m14 0h2m4 0h1m1 0h1m1 0h1m1 0h2m1 0h3m1 0h5m1 0h1m1 0h3m1 0h3m1 0h1m2 0h1m2 0h1M44 82h1m12 0h1m15 0h1m3 0h1m3 0h1m1 0h1m6 0h2m1 0h1m2 0h1m3 0h1m65 0h1m1 0h1m4 0h2m9 0h3m2 0h1m1 0h1m3 0h3m4 0h5m2 0h1m6 0h1m3 0h1m83 0h1m7 0h1m8 0h3m27 0h1m2 0h1m17 0h1m2 0h2m54 0h1m1 0h1m25 0h1m7 0h1m4 0h1m1 0h2m1 0h1m1 0h1m2 0h1m2 0h9m1 0h1m1 0h3m3 0h2m3 0h1M43 83h1m5 0h1m3 0h1m3 0h3m1 0h3m1 0h1m3 0h1m2 0h1m3 0h4m6 0h1m1 0h1m2 0h2m2 0h1m1 0h1m65 0h1m10 0h2m8 0h2m2 0h1m6 0h2m5 0h1m1 0h1m1 0h1m1 0h2m2 0h4m1 0h2m3 0h2m3 0h1m83 0h3m1 0h1m2 0h4m37 0h1m3 0h1m4 0h2m3 0h1m2 0h1m1 0h1m53 0h1m2 0h1m16 0h1m10 0h2m1 0h1m4 0h1m3 0h2m1 0h2m1 0h3m3 0h1m1 0h3m2 0h2m2 0h3m3 0h2m2 0h1m1 0h1M46 84h1m9 0h3m8 0h1m1 0h1m1 0h1m4 0h1m5 0h1m11 0h1m2 0h1m1 0h1m4 0h1m62 0h1m1 0h4m11 0h1m3 0h2m5 0h1m4 0h2m3 0h1m3 0h3m5 0h2m5 0h1m1 0h1m1 0h1m1 0h1m74 0h1m1 0h1m5 0h1m2 0h1m46 0h2m4 0h1m1 0h1m2 0h3m4 0h1m57 0h2m12 0h1m6 0h4m5 0h1m5 0h1m1 0h2m3 0h1m1 0h1m2 0h1m3 0h4m2 0h1m2 0h1m1 0h3m1 0h1m3 0h1M33 85h1m3 0h1m3 0h1m2 0h1m8 0h1m10 0h2m6 0h1m2 0h1m2 0h1m1 0h1m1 0h1m3 0h2m14 0h1m3 0h1m57 0h1m5 0h1m15 0h1m2 0h1m2 0h2m2 0h2m1 0h5m12 0h1m5 0h3m4 0h1m79 0h3m1 0h2m1 0h1m2 0h1m12 0h1m36 0h1m4 0h1m1 0h1m59 0h1m12 0h2m7 0h1m7 0h2m3 0h1m2 0h1m3 0h1m7 0h3m1 0h2m1 0h3m1 0h2m2 0h1M52 86h3m2 0h5m2 0h1m2 0h2m2 0h1m2 0h1m1 0h1m6 0h1m5 0h1m2 0h1m12 0h2m56 0h1m4 0h1m6 0h1m4 0h1m1 0h1m2 0h1m1 0h3m1 0h1m3 0h1m1 0h6m1 0h1m1 0h2m4 0h1m4 0h1m1 0h1m2 0h1m3 0h1m1 0h2m67 0h1m14 0h1m3 0h1m1 0h1m4 0h1m38 0h2m9 0h1m7 0h1m2 0h1m46 0h1m29 0h1m1 0h1m1 0h1m6 0h1m2 0h1m4 0h1m1 0h4m1 0h2m1 0h1m2 0h1m3 0h1m2 0h1m2 0h2m3 0h1M32 87h1m11 0h1m1 0h1m2 0h1m2 0h2m1 0h2m1 0h2m2 0h1m2 0h8m3 0h1m1 0h1m2 0h1m2 0h1m3 0h3m4 0h1m3 0h1m5 0h1m1 0h1m1 0h1m48 0h1m14 0h2m2 0h2m1 0h1m3 0h1m1 0h2m5 0h1m2 0h2m1 0h2m2 0h1m3 0h1m1 0h1m3 0h1m2 0h1m1 0h1m2 0h1m7 0h1m83 0h1m1 0h2m50 0h1m7 0h1m2 0h1m6 0h2m37 0h1m8 0h1m29 0h3m2 0h1m2 0h4m6 0h5m1 0h1m1 0h8m3 0h3m5 0h1m2 0h1M46 88h2m1 0h1m2 0h2m1 0h1m1 0h1m1 0h2m2 0h2m1 0h1m1 0h2m3 0h2m1 0h2m5 0h1m5 0h1m2 0h1m6 0h2m5 0h1m55 0h1m4 0h1m2 0h1m1 0h1m4 0h1m1 0h1m1 0h6m2 0h4m4 0h1m1 0h1m1 0h1m5 0h2m2 0h2m4 0h3m4 0h3m90 0h1m2 0h1m42 0h1m9 0h1m6 0h1m58 0h1m9 0h1m5 0h1m8 0h1m3 0h2m2 0h2m1 0h1m4 0h9m1 0h4m1 0h1m1 0h2m8 0h1M44 89h1m5 0h3m2 0h1m2 0h2m1 0h2m1 0h3m1 0h1m1 0h1m2 0h1m1 0h1m5 0h2m2 0h1m2 0h1m3 0h2m3 0h1m1 0h1m6 0h1m50 0h1m2 0h1m1 0h1m3 0h1m6 0h2m1 0h1m1 0h6m1 0h2m4 0h2m2 0h1m1 0h1m1 0h1m1 0h1m2 0h1m1 0h2m3 0h1m3 0h1m4 0h1m1 0h2m2 0h1m81 0h2m5 0h3m1 0h1m43 0h1m10 0h1m9 0h1m54 0h2m10 0h1m6 0h1m3 0h1m5 0h1m2 0h1m1 0h2m1 0h1m1 0h1m1 0h3m2 0h1m2 0h9m1 0h1m2 0h2M34 90h1m1 0h1m1 0h1m5 0h1m2 0h3m2 0h1m1 0h5m1 0h1m3 0h6m1 0h5m3 0h1m4 0h1m1 0h1m6 0h1m4 0h3m58 0h1m3 0h1m1 0h1m2 0h2m2 0h2m1 0h7m1 0h7m3 0h3m3 0h1m3 0h6m2 0h2m3 0h1m3 0h1m4 0h1m80 0h1m1 0h1m4 0h1m7 0h1m20 0h1m12 0h1m5 0h1m8 0h1m82 0h1m11 0h1m3 0h1m1 0h1m5 0h1m2 0h1m1 0h2m3 0h1m1 0h2m1 0h1m1 0h1m2 0h4M38 91h1m5 0h2m2 0h1m1 0h2m2 0h1m1 0h5m1 0h7m1 0h4m4 0h3m3 0h1m2 0h1m13 0h1m6 0h1m46 0h1m12 0h1m1 0h3m1 0h10m3 0h2m1 0h1m2 0h3m7 0h1m5 0h1m2 0h1m1 0h2m6 0h3m3 0h1m79 0h1m8 0h1m2 0h1m40 0h1m9 0h1m67 0h1m3 0h1m8 0h1m15 0h1m4 0h1m2 0h1m1 0h1m5 0h1m1 0h1m5 0h1m2 0h1m1 0h2m3 0h2M42 92h22m1 0h3m2 0h2m1 0h1m3 0h2m1 0h1m2 0h2m3 0h1m4 0h1m3 0h1m62 0h1m1 0h19m1 0h5m3 0h1m1 0h1m1 0h2m1 0h2m1 0h7m3 0h1m1 0h1m1 0h1m2 0h2m11 0h1m68 0h1m6 0h1m13 0h1m1 0h1m1 0h1m33 0h1m13 0h1m13 0h1m42 0h1m18 0h1m13 0h1m2 0h2m4 0h1m1 0h1m1 0h2m2 0h1m5 0h1m5 0h2m4 0h3m5 0h1M39 93h1m2 0h25m1 0h2m1 0h1m2 0h1m2 0h1m1 0h2m1 0h1m1 0h1m6 0h1m5 0h1m4 0h1m3 0h1m47 0h1m3 0h3m1 0h1m1 0h5m1 0h14m1 0h1m2 0h4m3 0h3m1 0h2m7 0h1m1 0h1m4 0h1m2 0h1m3 0h1m93 0h1m39 0h1m4 0h1m9 0h3m58 0h1m29 0h1m2 0h1m1 0h1m2 0h2m2 0h1m3 0h2m3 0h1m2 0h1m1 0h2m4 0h1m6 0h1M30 94h1m1 0h1m3 0h2m1 0h3m1 0h22m1 0h1m3 0h1m1 0h1m2 0h1m9 0h4m1 0h1m3 0h1m8 0h1m53 0h1m1 0h1m1 0h1m2 0h2m1 0h21m2 0h1m2 0h1m4 0h1m1 0h1m2 0h2m1 0h1m3 0h1m3 0h1m6 0h2m2 0h2m101 0h2m38 0h1m7 0h1m2 0h1m79 0h2m2 0h4m5 0h1m1 0h2m2 0h1m1 0h1m1 0h4m3 0h3m3 0h1m3 0h1m3 0h1m1 0h1m1 0h1m3 0h1M30 95h2m3 0h2m2 0h28m1 0h4m1 0h4m1 0h1m1 0h1m1 0h2m2 0h1m7 0h1m5 0h1m1 0h1m51 0h1m1 0h5m1 0h26m1 0h2m1 0h2m2 0h1m3 0h1m5 0h1m1 0h1m12 0h1m1 0h1m3 0h1m139 0h2m62 0h1m8 0h1m34 0h1m4 0h2m1 0h1m1 0h2m2 0h1m1 0h3m1 0h1m7 0h2M29 96h1m6 0h2m1 0h29m1 0h2m1 0h1m2 0h1m11 0h2m3 0h1m2 0h1m6 0h1m53 0h1m1 0h28m1 0h3m1 0h1m1 0h3m2 0h2m2 0h1m1 0h2m2 0h2m2 0h2m1 0h2m2 0h1m6 0h2m139 0h1M31 97h1m1 0h3m1 0h30m1 0h1m1 0h6m2 0h1m4 0h3m1 0h4m2 0h3m2 0h1m1 0h1m4 0h1m50 0h2m1 0h26m1 0h3m2 0h2m3 0h1m2 0h1m2 0h2m2 0h1m5 0h1m3 0h1m4 0h1m3 0h1m3 0h1m131 0h1m11 0h1M30 98h1m1 0h1m2 0h35m4 0h1m1 0h2m7 0h1m1 0h2m6 0h1m4 0h1m55 0h33m2 0h3m3 0h1m11 0h1m2 0h3m1 0h1m4 0h1m2 0h1m1 0h1M28 99h2m3 0h39m2 0h1m13 0h1m9 0h1m56 0h28m1 0h1m1 0h2m2 0h3m3 0h1m4 0h1m2 0h2m3 0h3m13 0h1m2 0h3M31 100h43m4 0h1m9 0h1m1 0h2m3 0h1m6 0h1m2 0h1m47 0h1m1 0h30m2 0h2m1 0h1m2 0h1m1 0h2m2 0h2m12 0h1m1 0h1m2 0h1m4 0h1m2 0h1M28 101h1m1 0h44m1 0h1m2 0h2m5 0h1m4 0h1m62 0h32m1 0h3m2 0h1m2 0h2m6 0h2m2 0h2m4 0h1m4 0h1m11 0h1M28 102h1m1 0h42m1 0h2m5 0h1m5 0h1m8 0h1m6 0h1m50 0h32m1 0h2m1 0h2m4 0h1m1 0h2m7 0h1m4 0h1m8 0h1m4 0h1m2 0h1M28 103h43m3 0h2m5 0h1m1 0h1m9 0h1m2 0h1m56 0h28m1 0h3m10 0h1m8 0h1m6 0h2m8 0h1m7 0h1M28 104h38m1 0h3m1 0h2m7 0h1m28 0h1m43 0h26m1 0h1m1 0h2m2 0h2m3 0h1m4 0h1m1 0h1m19 0h1M28 105h41m1 0h1m6 0h2m9 0h1m2 0h1m10 0h1m1 0h1m4 0h1m43 0h25m1 0h4m3 0h1m2 0h1m5 0h1m14 0h1M28 106h41m5 0h1m3 0h1m74 0h24m4 0h1m1 0h2m1 0h1m5 0h1m4 0h1m3 0h1m3 0h1m12 0h1m10 0h1M28 107h34m1 0h1m1 0h4m1 0h1m2 0h1m3 0h1m4 0h1m2 0h1m3 0h2m1 0h1m8 0h1m4 0h1m46 0h24m5 0h1m1 0h1m8 0h1m1 0h1m4 0h1m7 0h1m4 0h1m14 0h1M28 108h33m2 0h4m1 0h1m7 0h1m1 0h1m1 0h1m9 0h1M28 109h29m1 0h5m1 0h3m1 0h1m4 0h1m5 0h1m3 0h1m5 0h1M28 110h23m1 0h1m2 0h6m1 0h2m2 0h1m1 0h4m8 0h1M322 143h1m7 0h1m8 0h5m1 0h2m6 0h1m1 0h1m4 0h1m2 0h1m22 0h1M335 144h1m4 0h1m1 0h1m3 0h1m2 0h1m1 0h1m8 0h1m23 0h3M306 145h1m12 0h1m6 0h1m9 0h2m1 0h2m1 0h2m5 0h5m3 0h2m2 0h2m17 0h1m3 0h1m2 0h1M298 146h1m19 0h1m15 0h1m1 0h1m7 0h2m3 0h1m1 0h4m5 0h2m2 0h2m11 0h1m3 0h1m2 0h1m1 0h1M329 147h1m4 0h1m2 0h3m1 0h1m1 0h1m1 0h1m1 0h1m2 0h10m1 0h2m1 0h2m14 0h1m1 0h2M300 148h1m4 0h1m20 0h1m4 0h1m3 0h3m1 0h2m2 0h1m2 0h1m2 0h1m1 0h3m1 0h1m8 0h2m8 0h2m9 0h2M299 149h1m1 0h1m6 0h1m1 0h1m4 0h1m3 0h1m5 0h1m2 0h2m5 0h1m1 0h1m1 0h1m1 0h1m1 0h1m1 0h2m2 0h4m4 0h1m1 0h3m2 0h2m1 0h1m5 0h1m5 0h1m4 0h1M298 150h1m1 0h1m7 0h1m6 0h1m2 0h1m2 0h1m2 0h1m1 0h2m3 0h2m2 0h3m1 0h4m5 0h5m1 0h6m3 0h1m2 0h2m1 0h1m3 0h1m2 0h1m1 0h1m7 0h2M308 151h2m1 0h1m1 0h1m1 0h1m1 0h1m2 0h1m3 0h1m2 0h2m1 0h1m3 0h1m1 0h6m2 0h6m1 0h6m1 0h2m1 0h2m1 0h4m4 0h2m3 0h4m3 0h3M297 152h1m2 0h1m1 0h1m4 0h1m6 0h2m1 0h1m2 0h1m1 0h6m3 0h12m2 0h7m1 0h9m1 0h3m7 0h3m5 0h1m3 0h2M297 153h1m3 0h3m1 0h1m5 0h3m1 0h1m3 0h1m1 0h8m2 0h29m2 0h3m1 0h2m5 0h1m3 0h2m6 0h3M84 154h1m211 0h2m1 0h4m1 0h7m1 0h10m2 0h1m1 0h1m1 0h3m2 0h10m1 0h2m6 0h1m1 0h2m1 0h1m1 0h6m2 0h3m5 0h1m7 0h5M296 155h24m1 0h29m1 0h1m1 0h2m1 0h2m1 0h1m1 0h5m1 0h1m2 0h1m3 0h1m4 0h1m1 0h1m1 0h5M299 156h47m1 0h5m1 0h2m4 0h2m1 0h1m1 0h6m2 0h1m2 0h1m1 0h1m1 0h1m3 0h3m1 0h1M191 157h1m104 0h1m1 0h45m1 0h2m1 0h3m1 0h2m1 0h1m1 0h1m1 0h3m4 0h1m2 0h1m1 0h3m2 0h1m1 0h1m3 0h1m1 0h1m2 0h1M81 158h1m3 0h1m122 0h1m88 0h49m1 0h6m2 0h5m1 0h2m1 0h3m4 0h1m6 0h1m3 0h1m4 0h1M84 159h1m12 0h1m93 0h2m103 0h50m1 0h1m1 0h1m1 0h5m1 0h2m1 0h1m1 0h2m2 0h2m4 0h1m1 0h2m1 0h5m3 0h3M158 160h1m10 0h1m25 0h1m3 0h1m11 0h1m84 0h1m1 0h46m1 0h2m1 0h6m1 0h3m1 0h1m1 0h1m1 0h1m2 0h1m1 0h1m1 0h1m15 0h1M76 161h1m5 0h1m3 0h1m3 0h1m111 0h1m6 0h1m86 0h47m3 0h1m2 0h2m8 0h2m3 0h1m1 0h2m3 0h2m3 0h2m2 0h2m2 0h4M63 162h1m115 0h1m15 0h1m10 0h1m3 0h1m4 0h1m81 0h43m1 0h3m1 0h1m1 0h2m1 0h1m2 0h1m3 0h1m8 0h1m2 0h1m1 0h4m4 0h2m3 0h4M51 163h1m23 0h1m6 0h1m2 0h2m80 0h1m41 0h1m86 0h34m1 0h10m1 0h1m3 0h3m3 0h1m3 0h4m2 0h2m2 0h1m3 0h1m13 0h1m2 0h1M55 164h1m16 0h1m15 0h2m6 0h1m86 0h1m4 0h1m17 0h2m3 0h4m3 0h1m77 0h14m1 0h8m1 0h6m2 0h6m1 0h5m1 0h1m2 0h2m5 0h1m3 0h2m1 0h4m2 0h1m1 0h1m10 0h1M62 165h1m15 0h1m1 0h1m98 0h1m5 0h1m14 0h1m2 0h1m3 0h1m2 0h1m87 0h2m1 0h9m1 0h1m1 0h8m2 0h2m1 0h2m1 0h2m1 0h2m2 0h2m1 0h4m1 0h3m4 0h1m5 0h1m1 0h1m13 0h2m9 0h1m1 0h2M37 166h1m20 0h1m10 0h1m2 0h1m1 0h1m6 0h1m1 0h1m2 0h2m8 0h1m81 0h1m8 0h1m4 0h1m5 0h1m3 0h1m2 0h5m7 0h1m79 0h1m2 0h6m4 0h8m1 0h3m1 0h1m1 0h5m1 0h1m1 0h3m2 0h1m1 0h1m1 0h1m2 0h1m1 0h1m3 0h1m6 0h1m4 0h1m7 0h1m8 0h1m4 0h3M36 167h1m20 0h2m17 0h1m5 0h1m2 0h4m2 0h1m4 0h2m77 0h1m5 0h1m5 0h2m2 0h1m1 0h1m2 0h1m4 0h1m5 0h1m1 0h2m2 0h1m2 0h1m3 0h1m77 0h1m1 0h2m1 0h2m4 0h6m1 0h1m3 0h1m1 0h3m3 0h1m2 0h1m4 0h4m1 0h1m3 0h1m2 0h1m1 0h1m1 0h1m2 0h1m4 0h1m17 0h1m3 0h2M35 168h1m19 0h1m5 0h1m7 0h1m4 0h3m3 0h1m1 0h1m1 0h1m4 0h1m2 0h2m3 0h1m76 0h1m2 0h3m3 0h1m4 0h1m1 0h1m1 0h1m2 0h1m1 0h1m3 0h1m2 0h2m1 0h3m2 0h2m1 0h2m1 0h1m1 0h1m76 0h2m2 0h1m3 0h1m1 0h1m2 0h2m1 0h2m2 0h1m1 0h1m2 0h1m2 0h4m1 0h1m1 0h1m5 0h4m4 0h1m1 0h1m1 0h1m1 0h1m2 0h1m1 0h1m8 0h1m8 0h1m11 0h1M42 169h1m3 0h1m4 0h1m4 0h4m1 0h1m6 0h2m2 0h2m2 0h1m2 0h1m1 0h2m2 0h1m2 0h1m7 0h1m64 0h1m2 0h1m2 0h1m9 0h1m1 0h1m1 0h1m1 0h1m2 0h1m1 0h1m3 0h1m4 0h2m1 0h1m1 0h5m3 0h3m2 0h2m3 0h1m1 0h1m77 0h1m1 0h1m1 0h1m2 0h1m1 0h2m1 0h2m1 0h2m1 0h1m1 0h1m3 0h1m4 0h2m1 0h1m2 0h1m1 0h1m4 0h1m9 0h2m8 0h2m2 0h1m10 0h1m1 0h1m5 0h3M38 170h1m6 0h1m3 0h1m3 0h1m4 0h1m1 0h1m1 0h1m1 0h4m1 0h2m3 0h1m3 0h1m3 0h3m1 0h1m1 0h1m4 0h2m69 0h1m13 0h6m1 0h2m1 0h5m1 0h8m1 0h3m1 0h1m2 0h1m2 0h2m1 0h1m2 0h1m78 0h1m4 0h2m1 0h1m3 0h1m1 0h1m2 0h1m1 0h1m4 0h1m3 0h1m1 0h2m1 0h1m1 0h1m3 0h1m4 0h1m17 0h1m7 0h1m15 0h1M40 171h1m6 0h1m1 0h1m1 0h1m4 0h1m1 0h1m4 0h2m1 0h2m1 0h2m1 0h2m1 0h1m1 0h2m1 0h6m1 0h1m83 0h1m4 0h2m4 0h5m4 0h2m1 0h5m2 0h6m2 0h6m1 0h1m1 0h2m1 0h1m79 0h2m1 0h2m3 0h1m13 0h1m2 0h1m10 0h1m1 0h1m17 0h1m8 0h1m2 0h1m4 0h1m3 0h1m5 0h4M46 172h2m9 0h2m2 0h3m1 0h1m2 0h1m1 0h2m1 0h2m1 0h3m1 0h1m1 0h8m4 0h1m1 0h2m60 0h1m3 0h1m2 0h1m5 0h3m2 0h2m4 0h4m2 0h4m1 0h1m5 0h3m2 0h4m1 0h4m2 0h1m1 0h3m2 0h1m82 0h1m1 0h1m12 0h1m8 0h1m7 0h1m4 0h3m22 0h1m15 0h4M42 173h1m10 0h1m2 0h1m5 0h1m2 0h6m1 0h4m1 0h1m1 0h1m1 0h5m2 0h5m4 0h1m68 0h1m5 0h1m1 0h2m1 0h3m1 0h3m1 0h2m1 0h11m1 0h2m1 0h2m1 0h2m1 0h2m1 0h1m1 0h1m1 0h3m2 0h1m90 0h1m2 0h1m4 0h2m1 0h1m7 0h1m20 0h1m31 0h1M48 174h1m4 0h1m3 0h1m3 0h2m2 0h1m1 0h3m1 0h3m1 0h3m1 0h7m1 0h1m1 0h2m1 0h1m1 0h1m1 0h1m66 0h1m2 0h1m5 0h2m7 0h1m3 0h1m1 0h2m2 0h11m1 0h4m1 0h1m1 0h1m1 0h2m1 0h4m81 0h1m5 0h1m2 0h1m8 0h1m5 0h2m22 0h1M41 175h1m7 0h3m4 0h1m1 0h1m1 0h4m3 0h1m1 0h2m1 0h3m1 0h2m1 0h3m1 0h1m1 0h1m1 0h3m1 0h2m65 0h1m1 0h1m3 0h1m6 0h2m4 0h2m3 0h4m3 0h2m2 0h2m1 0h3m1 0h3m1 0h2m2 0h6m1 0h3m2 0h1m92 0h1m1 0h1m14 0h1m1 0h1m1 0h1m1 0h1m10 0h1m33 0h1M42 176h2m2 0h2m1 0h1m5 0h1m2 0h2m1 0h3m1 0h3m1 0h1m2 0h1m2 0h2m1 0h2m1 0h1m2 0h3m1 0h2m2 0h2m2 0h1m60 0h1m16 0h1m3 0h2m2 0h1m4 0h1m3 0h2m1 0h10m5 0h2m2 0h1m1 0h4m1 0h2M42 177h1m13 0h1m1 0h1m1 0h8m1 0h1m1 0h1m2 0h11m1 0h1m1 0h2m1 0h3m64 0h1m7 0h2m11 0h1m5 0h3m2 0h1m1 0h4m1 0h1m1 0h3m1 0h2m1 0h3m2 0h6M46 178h1m1 0h2m4 0h1m1 0h1m1 0h1m1 0h3m1 0h1m5 0h2m1 0h5m5 0h1m4 0h1m1 0h2m1 0h1m2 0h1m64 0h1m6 0h2m4 0h1m2 0h1m2 0h1m2 0h2m2 0h1m1 0h2m2 0h2m2 0h2m4 0h3m1 0h1m2 0h1m2 0h2m5 0h1M38 179h1m15 0h1m4 0h1m1 0h2m1 0h1m1 0h1m1 0h2m1 0h1m2 0h1m1 0h2m1 0h1m1 0h2m1 0h2m3 0h1m1 0h1m1 0h1m65 0h1m4 0h1m4 0h1m2 0h1m4 0h2m3 0h4m2 0h1m1 0h3m3 0h2m1 0h1m1 0h1m3 0h1m1 0h1m4 0h1m1 0h1m4 0h1M38 180h1m1 0h1m1 0h1m16 0h1m1 0h3m1 0h1m2 0h4m1 0h6m1 0h3m2 0h1m2 0h1m2 0h2m2 0h1m60 0h1m9 0h1m5 0h1m6 0h1m3 0h1m4 0h1m8 0h1m5 0h1m1 0h1m3 0h1m3 0h1m4 0h1M42 181h1m5 0h2m2 0h2m4 0h1m7 0h1m3 0h2m3 0h1m1 0h3m2 0h2m2 0h1m4 0h1m2 0h1m1 0h1m88 0h2m2 0h1m9 0h2m3 0h1m1 0h1m4 0h1m4 0h1m1 0h1m2 0h1M40 182h1m8 0h1m4 0h1m1 0h2m8 0h3m4 0h1m3 0h1m2 0h1m2 0h1m2 0h1m7 0h2m75 0h2m6 0h1m4 0h1m2 0h1m2 0h1m1 0h1m1 0h1m1 0h1m5 0h2m2 0h2m1 0h1M41 183h1m8 0h1m17 0h1m5 0h1m1 0h1m13 0h1m97 0h1m4 0h1m6 0h1m3 0h1m4 0h2m2 0h1m8 0h1M31 184h1m20 0h2m1 0h1m2 0h2m4 0h1m3 0h1m1 0h1m2 0h1m1 0h1m1 0h1m11 0h1m1 0h1m4 0h1m78 0h1m1 0h1m2 0h2m1 0h1m16 0h1m1 0h1m2 0h1m7 0h1m1 0h2M50 185h1m3 0h2m6 0h2m2 0h1m3 0h1m1 0h1m3 0h1m4 0h1m9 0h2m77 0h1m1 0h1m9 0h1m9 0h1m6 0h1m4 0h2m15 0h2M40 186h1m9 0h1m10 0h1m5 0h2m4 0h4m2 0h1m74 0h1m11 0h1m15 0h2m2 0h1m3 0h1m8 0h1m1 0h1m15 0h1M42 187h1m8 0h1m7 0h1m5 0h1m8 0h1m5 0h1m77 0h1m4 0h1m23 0h1m1 0h1m2 0h1m7 0h1m14 0h1M33 188h1m20 0h2m5 0h1m2 0h1m10 0h1m15 0h1m76 0h2m6 0h1m8 0h1m3 0h1m1 0h1m5 0h1m2 0h1m1 0h2m2 0h1m8 0h1m1 0h1M37 189h1m25 0h1m26 0h1m1 0h1m90 0h1m14 0h2m4 0h1m7 0h1m7 0h1M29 190h2m24 0h1m5 0h3m8 0h2m4 0h1m11 0h1m62 0h1m1 0h1m12 0h1m2 0h1m5 0h1m11 0h1m1 0h3m8 0h1m3 0h1M48 191h2m6 0h1m3 0h1m8 0h1m5 0h1m9 0h2m74 0h1m7 0h1m1 0h1m5 0h1m7 0h2m7 0h1m1 0h1m1 0h1m5 0h2M29 192h1m2 0h2m7 0h2m3 0h1m7 0h1m1 0h1m1 0h1m1 0h1m6 0h2m14 0h1m4 0h1m65 0h1m22 0h1m2 0h1m17 0h1m3 0h2m6 0h1M40 193h2m8 0h1m9 0h1m4 0h1m5 0h1m1 0h1m7 0h1m2 0h2m6 0h1m74 0h1m4 0h1m1 0h1m5 0h1m1 0h1m6 0h2m2 0h1m9 0h1m5 0h1m1 0h1m2 0h1m1 0h1M37 194h1m10 0h1m8 0h1m6 0h4m1 0h1m3 0h1m7 0h1m1 0h1m84 0h1m12 0h1m4 0h1m10 0h1m1 0h1m6 0h1m3 0h2m5 0h1m2 0h1M37 195h1m8 0h2m1 0h1m6 0h1m1 0h1m2 0h1m4 0h1m6 0h1m1 0h1m3 0h1m4 0h1m7 0h1m68 0h1m8 0h1m3 0h1m2 0h1m2 0h1m2 0h1m9 0h1M41 196h1m14 0h1m3 0h1m6 0h2m1 0h1m5 0h1m6 0h1m82 0h1m3 0h2m12 0h2m14 0h1m6 0h1m6 0h1M39 197h1m7 0h1m8 0h1m9 0h1m3 0h1m9 0h1m2 0h1m4 0h1m78 0h1m6 0h2m6 0h1m2 0h1m3 0h1m4 0h1m1 0h1m3 0h1m6 0h1m3 0h2m3 0h1M33 198h1m18 0h1m1 0h2m19 0h1m1 0h1m1 0h1m1 0h1m10 0h1m67 0h1m8 0h1m2 0h1m2 0h1m15 0h1m7 0h1m4 0h1m2 0h1m8 0h2m2 0h1M45 199h1m4 0h1m6 0h1m8 0h1m1 0h1m6 0h1m1 0h3m7 0h1m2 0h2m64 0h1m2 0h1m16 0h1m3 0h1m1 0h1m2 0h1m1 0h1m2 0h1m13 0h2m1 0h1m12 0h1M31 200h1m7 0h1m4 0h1m3 0h1m6 0h6m9 0h1m23 0h1m62 0h1m16 0h2m3 0h1m3 0h1m7 0h1m5 0h2m2 0h1m4 0h1m9 0h1m1 0h2M29 201h1m9 0h1m5 0h1m5 0h1m3 0h1m3 0h1m2 0h1m1 0h2m5 0h2m3 0h1m2 0h1m3 0h1m2 0h1m69 0h1m2 0h1m10 0h1m3 0h1m1 0h1m2 0h2m5 0h1m7 0h3m2 0h1m2 0h1m2 0h1m1 0h1m3 0h2m3 0h1M39 202h1m13 0h2m2 0h1m2 0h2m3 0h1m1 0h3m6 0h1m1 0h1m5 0h1m5 0h1m1 0h1m70 0h1m10 0h1m5 0h1m2 0h1m3 0h2m1 0h1m4 0h1m5 0h1m10 0h1m2 0h1M29 203h1m6 0h1m11 0h1m17 0h1m1 0h1m3 0h1m4 0h1m12 0h1m85 0h1m9 0h1m4 0h1m4 0h2m1 0h1m1 0h2m4 0h1m4 0h1m4 0h2m1 0h1M50 204h1m7 0h1m2 0h2m1 0h1m7 0h1m1 0h1m6 0h2m1 0h1m8 0h3m61 0h1m7 0h1m2 0h1m5 0h1m4 0h1m2 0h1m2 0h1m9 0h3m1 0h1m1 0h3m2 0h2m3 0h2m3 0h1m5 0h1M42 205h1m9 0h1m2 0h1m4 0h1m3 0h1m3 0h1m2 0h1m7 0h3m4 0h1m1 0h1m8 0h1m70 0h1m4 0h1m4 0h1m3 0h1m15 0h1m1 0h1m2 0h1m1 0h1m5 0h1m4 0h1M55 206h1m12 0h1m1 0h1m5 0h3m1 0h1m1 0h2m1 0h1m6 0h1m4 0h1m66 0h1m3 0h1m18 0h3m13 0h1m1 0h1m2 0h1m3 0h1m1 0h1m4 0h2M33 207h2m6 0h1m7 0h1m24 0h1m4 0h1m1 0h1m4 0h1m2 0h1m2 0h2m59 0h1m15 0h1m1 0h1m1 0h1m21 0h1m1 0h1m4 0h1m1 0h6m10 0h1M39 208h1m12 0h2m5 0h1m7 0h1m9 0h1m3 0h1m3 0h1m4 0h1m1 0h1m1 0h1m59 0h1m18 0h1m2 0h2m2 0h2m4 0h2m11 0h2m1 0h3m2 0h3m2 0h4m5 0h1M33 209h1m3 0h1m1 0h1m4 0h1m2 0h1m5 0h1m3 0h1m3 0h1m5 0h1m1 0h1m6 0h1m4 0h1m2 0h8m3 0h1m79 0h1m4 0h1m2 0h1m4 0h2m1 0h2m2 0h1m4 0h2m1 0h4m2 0h1m2 0h1m1 0h2M36 210h1m21 0h1m1 0h1m1 0h1m3 0h1m2 0h1m1 0h1m1 0h1m1 0h1m1 0h2m2 0h1m3 0h3m3 0h1m3 0h1m75 0h2m2 0h1m2 0h2m2 0h3m6 0h1m2 0h2m1 0h1m1 0h2m3 0h3m2 0h4m2 0h2m1 0h4M38 211h1m8 0h3m9 0h1m9 0h1m6 0h1m3 0h1m1 0h2m1 0h2m2 0h1m1 0h1m2 0h1m1 0h1m67 0h1m1 0h1m8 0h2m3 0h3m1 0h1m2 0h1m2 0h1m1 0h1m1 0h2m2 0h8m1 0h5m2 0h1m2 0h1M29 212h1m9 0h1m4 0h1m2 0h1m7 0h1m5 0h1m11 0h2m6 0h1m2 0h3m1 0h3m1 0h2m1 0h1m1 0h1m56 0h1m1 0h1m2 0h1m8 0h1m3 0h1m1 0h1m1 0h3m1 0h1m1 0h1m1 0h4m1 0h1m3 0h1m3 0h2m2 0h1m1 0h1m1 0h5m2 0h1m1 0h3m1 0h2m2 0h1M36 213h1m12 0h1m1 0h2m4 0h3m2 0h5m3 0h1m2 0h2m1 0h2m2 0h9m5 0h1m2 0h1m67 0h1m7 0h1m1 0h1m2 0h2m3 0h1m1 0h4m2 0h1m2 0h3m3 0h9m1 0h2m3 0h1m1 0h1m4 0h1M35 214h1m1 0h1m5 0h1m2 0h2m5 0h1m4 0h1m1 0h1m2 0h1m1 0h2m2 0h2m6 0h2m1 0h1m1 0h1m2 0h4m1 0h2m1 0h1m1 0h3m68 0h1m5 0h2m2 0h1m4 0h3m2 0h2m1 0h1m3 0h2m1 0h3m1 0h11m2 0h1m1 0h1m1 0h2m3 0h1M31 215h1m8 0h1m1 0h2m6 0h1m2 0h2m1 0h1m5 0h1m3 0h5m2 0h1m1 0h1m3 0h7m1 0h2m1 0h3m2 0h2m56 0h1m4 0h2m2 0h3m2 0h1m3 0h1m1 0h1m3 0h1m2 0h1m1 0h1m1 0h3m3 0h4m1 0h11m1 0h4m1 0h2m1 0h3m4 0h1M30 216h1m3 0h2m8 0h1m8 0h2m2 0h1m1 0h1m1 0h1m1 0h1m1 0h4m1 0h8m3 0h3m1 0h10m1 0h1m66 0h1m4 0h1m4 0h1m2 0h1m1 0h2m1 0h1m1 0h1m3 0h5m1 0h21m1 0h2m1 0h1m3 0h1M39 217h1m2 0h2m3 0h1m3 0h2m1 0h1m1 0h1m2 0h3m1 0h1m1 0h29m3 0h1m55 0h1m2 0h1m5 0h2m1 0h2m3 0h1m2 0h2m3 0h2m1 0h1m1 0h1m1 0h1m1 0h1m1 0h30m1 0h1M33 218h1m2 0h3m1 0h1m1 0h1m3 0h3m3 0h3m6 0h1m6 0h1m1 0h28m60 0h2m1 0h1m1 0h2m1 0h4m1 0h1m1 0h1m2 0h1m2 0h2m1 0h1m1 0h1m1 0h1m1 0h3m1 0h1m1 0h5m1 0h12m1 0h7m1 0h1M30 219h2m10 0h1m5 0h2m2 0h4m2 0h10m2 0h25m1 0h1m56 0h1m1 0h1m4 0h1m2 0h3m1 0h8m4 0h2m1 0h2m1 0h2m1 0h2m1 0h23m1 0h1m2 0h2m2 0h1M36 220h1m1 0h1m1 0h1m1 0h1m4 0h1m1 0h5m1 0h7m1 0h1m1 0h6m1 0h1m1 0h21m1 0h2m57 0h2m4 0h7m1 0h7m1 0h10m1 0h4m1 0h17m1 0h1m2 0h3m3 0h1M34 221h1m2 0h7m1 0h5m1 0h5m1 0h1m1 0h2m1 0h3m1 0h1m1 0h6m1 0h22m57 0h1m1 0h3m1 0h1m1 0h18m1 0h1m1 0h5m1 0h27m3 0h2M29 222h1m1 0h3m1 0h7m2 0h2m1 0h5m1 0h9m1 0h7m1 0h1m1 0h22m2 0h1m59 0h26m1 0h2m2 0h17m1 0h3m1 0h6m1 0h1m1 0h1M29 223h1m1 0h1m1 0h15m1 0h2m1 0h9m1 0h2m1 0h1m1 0h1m1 0h4m1 0h3m1 0h20m55 0h2m1 0h1m1 0h30m2 0h2m1 0h1m2 0h4m1 0h4m1 0h4m1 0h3m2 0h2M29 224h3m1 0h25m1 0h2m1 0h29m1 0h3m1 0h2m55 0h36m1 0h8m2 0h8m1 0h3m2 0h1m1 0h2M29 225h30m1 0h3m1 0h1m1 0h20m2 0h5m1 0h1m2 0h1m55 0h1m1 0h28m1 0h5m1 0h1m2 0h1m1 0h2m3 0h8m2 0h3m1 0h3m2 0h2M29 226h23m1 0h5m1 0h1m1 0h2m1 0h2m1 0h2m1 0h3m1 0h1m1 0h2m1 0h7m1 0h2m1 0h6m57 0h25m1 0h12m1 0h10m1 0h3m2 0h2m2 0h1m1 0h1m5 0h1M29 227h33m1 0h5m8 0h10m2 0h4m1 0h1m1 0h1m1 0h1m55 0h26m3 0h3m1 0h3m2 0h5m2 0h2m1 0h1m1 0h5m3 0h1m2 0h3m1 0h1m2 0h1M29 228h32m2 0h4m1 0h1m3 0h1m1 0h2m1 0h2m1 0h6m2 0h1m1 0h3m2 0h1m1 0h1m55 0h27m1 0h1m1 0h4m1 0h1m6 0h2m1 0h1m2 0h1m1 0h2m1 0h2m5 0h1m2 0h1M29 229h27m2 0h2m1 0h3m3 0h1m1 0h1m1 0h2m1 0h3m1 0h1m1 0h3m1 0h2m2 0h3m2 0h1m1 0h1m57 0h26m3 0h2m1 0h1m2 0h2m1 0h1m4 0h2m1 0h1m4 0h1m2 0h1m1 0h2m4 0h1m1 0h1M29 230h25m1 0h6m9 0h1m1 0h3m2 0h2m4 0h2m2 0h2m1 0h1m3 0h1m2 0h1m55 0h28m4 0h3m6 0h1m3 0h1m1 0h1m8 0h1m1 0h1m3 0h1m2 0h1M29 231h21m1 0h4m1 0h3m1 0h1m2 0h3m2 0h1m6 0h1m1 0h4m3 0h1m2 0h2m4 0h2m1 0h1m56 0h23m3 0h1m2 0h2m1 0h2m4 0h2m1 0h1m7 0h1m1 0h1M29 232h22m1 0h1m1 0h4m2 0h1m3 0h1m2 0h2m4 0h1m3 0h1m1 0h3m1 0h2m68 0h20m5 0h2m1 0h1m2 0h4m1 0h1m7 0h2m4 0h1M29 233h23m1 0h1m1 0h1m2 0h3m3 0h1m2 0h1m1 0h1m1 0h1m8 0h1m1 0h1m8 0h1m3 0h1m57 0h14m1 0h2m4 0h2m3 0h1m1 0h4m6 0h1m22 0h1m2 0h1M29 234h18m3 0h1m1 0h2m22 0h1m8 0h1m67 0h15m4 0h1m3 0h1m6 0h1m1 0h1m17 0h1m6 0h1m1 0h1M29 235h18m2 0h1m1 0h2m3 0h1m1 0h1m6 0h1m17 0h1m1 0h1m5 0h2m61 0h6m1 0h1m1 0h3m2 0h1m3 0h1m10 0h2m12 0h1m6 0h2m2 0h1M29 236h13m1 0h3m4 0h1m2 0h1m4 0h1m1 0h1m6 0h1m6 0h1m11 0h1m215 0h1m1 0h1m13 0h1m1 0h1m5 0h1m1 0h1m2 0h1m12 0h1m2 0h1m5 0h1m3 0h1M303 237h1m3 0h1m4 0h1m3 0h3m6 0h1m3 0h1m2 0h1m2 0h1m6 0h1m1 0h1m2 0h3m4 0h1m1 0h1m6 0h1m1 0h1m4 0h1m1 0h1m2 0h1m6 0h1M301 238h1m2 0h1m4 0h1m2 0h1m1 0h5m7 0h1m1 0h1m2 0h4m1 0h1m2 0h1m4 0h1m5 0h1m1 0h1m4 0h1m1 0h1m3 0h1m3 0h1m2 0h1m2 0h1m5 0h1m7 0h1M296 239h2m4 0h1m1 0h1m1 0h1m3 0h1m2 0h1m1 0h3m6 0h2m4 0h4m10 0h1m2 0h1m1 0h1m1 0h2m2 0h1m1 0h2m1 0h3m2 0h1m1 0h2m6 0h1m3 0h1m4 0h1m2 0h1M299 240h1m3 0h7m4 0h1m3 0h2m1 0h2m1 0h3m1 0h1m1 0h3m1 0h1m1 0h1m3 0h1m2 0h1m2 0h2m2 0h4m1 0h1m3 0h9m10 0h1m1 0h1m3 0h1m1 0h2M300 241h1m4 0h4m1 0h5m1 0h8m1 0h3m1 0h4m2 0h1m1 0h1m1 0h1m1 0h2m1 0h1m1 0h1m1 0h3m2 0h7m1 0h4m1 0h4m2 0h1m8 0h1m2 0h3M297 242h6m1 0h1m1 0h5m2 0h4m1 0h5m1 0h3m1 0h9m1 0h7m1 0h1m1 0h2m1 0h9m1 0h2m1 0h6m1 0h2m5 0h1m6 0h2M297 243h2m1 0h1m1 0h5m1 0h1m1 0h1m1 0h4m1 0h12m1 0h23m1 0h9m1 0h6m2 0h1m3 0h1m7 0h1M296 244h1m2 0h1m2 0h30m1 0h35m1 0h2m3 0h2m2 0h1m2 0h1m2 0h1m1 0h2M296 245h74m6 0h3m3 0h2m1 0h3M296 246h3m1 0h73m1 0h1m1 0h3m3 0h1m2 0h1m1 0h1M297 247h75m2 0h3m1 0h3m3 0h3M297 248h1m1 0h1m1 0h68m1 0h1m3 0h1m1 0h2m1 0h2m3 0h4M297 249h71m1 0h3m1 0h3m1 0h1m1 0h2m2 0h5M296 250h2m1 0h29m1 0h3m1 0h13m1 0h10m1 0h17m2 0h2m2 0h3m1 0h2M296 251h1m3 0h14m1 0h16m1 0h12m1 0h2m1 0h3m1 0h12m1 0h4m1 0h3m2 0h1m1 0h1m3 0h2m1 0h4M298 252h1m2 0h3m1 0h3m1 0h4m2 0h7m1 0h2m1 0h1m1 0h5m1 0h3m1 0h1m1 0h2m3 0h4m2 0h4m1 0h12m3 0h4m1 0h7m1 0h4M299 253h3m1 0h1m2 0h4m1 0h4m1 0h2m1 0h1m2 0h3m2 0h1m1 0h4m1 0h1m1 0h4m2 0h2m1 0h2m1 0h3m1 0h4m1 0h4m1 0h1m1 0h3m1 0h1m1 0h1m3 0h1m6 0h3m1 0h2M296 254h3m1 0h3m2 0h1m1 0h1m2 0h3m2 0h2m1 0h1m1 0h4m1 0h5m1 0h1m4 0h4m1 0h3m4 0h1m1 0h4m2 0h1m1 0h1m4 0h4m1 0h1m1 0h3m2 0h4m2 0h2m1 0h2m1 0h1M298 255h2m1 0h1m1 0h2m1 0h1m2 0h4m4 0h2m4 0h2m1 0h1m1 0h2m1 0h2m2 0h1m3 0h3m1 0h1m7 0h1m1 0h1m8 0h1m1 0h1m2 0h3m3 0h1m2 0h2m2 0h1m2 0h2m1 0h1M300 256h2m3 0h2m3 0h3m6 0h1m1 0h1m2 0h2m2 0h3m1 0h1m2 0h1m4 0h1m5 0h2m2 0h1m1 0h1m1 0h3m2 0h2m1 0h2m1 0h1m1 0h1m1 0h1m1 0h4m1 0h2m4 0h2m1 0h2M305 257h1m1 0h1m3 0h1m1 0h1m4 0h1m1 0h1m3 0h1m12 0h1m2 0h1m2 0h2m1 0h2m5 0h2m1 0h1m10 0h1m1 0h4m2 0h1m5 0h2m1 0h3M301 258h1m2 0h1m6 0h1m1 0h2m3 0h2m6 0h1m1 0h1m2 0h3m16 0h1m5 0h2m6 0h1m8 0h1m2 0h2m7 0h3M296 259h1m1 0h1m5 0h1m1 0h2m7 0h1m6 0h1m7 0h1m3 0h1m5 0h1m3 0h1m1 0h1m12 0h1m7 0h1m4 0h1m3 0h1m3 0h2m1 0h1m1 0h1m1 0h1M305 260h1m14 0h1m1 0h1m2 0h1m10 0h1m4 0h1m2 0h1m3 0h1m2 0h1m5 0h2m3 0h2m1 0h1m1 0h1m4 0h1m1 0h1m1 0h1m5 0h1m4 0h1M305 261h1m3 0h1m1 0h1m17 0h2m41 0h1m5 0h1m3 0h2m3 0h1M319 262h1m1 0h1m20 0h1m3 0h2m4 0h2m7 0h2m6 0h1m2 0h1m5 0h1m7 0h1M338 263h1m43 0h1m3 0h2M343 264h1m32 0h1m7 0h1m1 0h1M332 333h1m2 0h1m1 0h1m1 0h2m8 0h1m2 0h1m1 0h1m6 0h1m6 0h1m11 0h1m1 0h1m1 0h2M328 334h1m4 0h1m1 0h1m7 0h1m1 0h1m3 0h1m5 0h2m2 0h1m3 0h1m2 0h1m3 0h2m9 0h1m5 0h1M315 335h1m10 0h1m4 0h1m4 0h3m5 0h1m3 0h2m1 0h1m3 0h3m2 0h2m1 0h1m2 0h1m7 0h2m5 0h1M329 336h1m2 0h1m2 0h1m2 0h5m4 0h1m1 0h2m1 0h2m1 0h1m3 0h1m2 0h1m2 0h1m2 0h1m5 0h2m1 0h1m9 0h1M303 337h1m4 0h1m4 0h1m11 0h1m6 0h1m8 0h1m4 0h1m2 0h1m4 0h2m2 0h2m1 0h1m1 0h1m1 0h1m5 0h1m10 0h1M333 338h6m1 0h1m3 0h1m1 0h1m1 0h1m1 0h3m1 0h3m1 0h1m2 0h1m6 0h1m4 0h2m2 0h1m1 0h1m3 0h1m2 0h2M294 339h1m10 0h1m12 0h2m6 0h1m3 0h1m1 0h5m2 0h1m1 0h1m5 0h2m1 0h1m1 0h1m2 0h2m2 0h2m3 0h1m3 0h1m2 0h1m2 0h1m2 0h1m3 0h1m1 0h1M297 340h1m6 0h1m10 0h1m1 0h1m6 0h1m1 0h3m1 0h2m1 0h2m1 0h2m1 0h1m3 0h1m2 0h2m2 0h3m1 0h3m1 0h2m1 0h3m8 0h3m4 0h1m3 0h1m1 0h1M294 341h1m2 0h2m7 0h1m2 0h2m10 0h1m5 0h1m2 0h3m1 0h6m1 0h5m1 0h2m3 0h1m1 0h4m1 0h1m1 0h1m1 0h2m3 0h3m1 0h2m3 0h1m1 0h1m3 0h1m1 0h1m1 0h1M294 342h2m5 0h2m1 0h1m1 0h3m2 0h1m1 0h1m2 0h3m3 0h2m3 0h4m1 0h9m1 0h1m1 0h1m1 0h4m1 0h1m3 0h5m1 0h5m1 0h1m1 0h1m4 0h2m4 0h2m2 0h1m1 0h2M297 343h2m2 0h2m1 0h2m1 0h4m3 0h1m1 0h1m1 0h1m5 0h2m1 0h4m1 0h2m1 0h1m1 0h1m2 0h1m3 0h6m1 0h3m1 0h2m1 0h4m1 0h2m3 0h2m5 0h2m7 0h2m1 0h1M295 344h1m1 0h10m3 0h2m1 0h4m1 0h1m1 0h4m1 0h15m1 0h2m2 0h2m2 0h1m2 0h4m1 0h5m1 0h4m5 0h1m3 0h1m1 0h2m3 0h2M296 345h2m1 0h2m1 0h6m1 0h2m1 0h3m2 0h8m1 0h14m1 0h4m1 0h1m1 0h14m1 0h1m2 0h1m1 0h1m15 0h3M295 346h4m1 0h2m3 0h15m1 0h1m1 0h27m3 0h1m1 0h1m1 0h2m1 0h1m1 0h6m1 0h1m1 0h2m7 0h1m2 0h1m2 0h2M295 347h3m1 0h42m1 0h3m1 0h1m1 0h1m2 0h2m1 0h2m1 0h5m4 0h4m7 0h2m6 0h2M294 348h45m3 0h2m1 0h1m2 0h1m1 0h1m1 0h2m2 0h1m1 0h8m3 0h1m2 0h2m1 0h1m7 0h5M294 349h1m1 0h45m2 0h2m1 0h2m2 0h1m1 0h1m1 0h1m1 0h1m3 0h1m1 0h1m1 0h1m2 0h1m1 0h1m4 0h2m1 0h1m6 0h1m1 0h2M296 350h44m3 0h5m3 0h1m3 0h6m2 0h1m4 0h1m2 0h1m2 0h4m1 0h1m2 0h1m2 0h2M294 351h1m1 0h42m1 0h2m1 0h2m6 0h4m2 0h1m1 0h2m1 0h2m5 0h1m2 0h1m1 0h1m1 0h1m1 0h1m2 0h2m1 0h2m1 0h1M294 352h1m1 0h42m1 0h2m1 0h1m4 0h1m1 0h1m1 0h2m2 0h2m2 0h2m1 0h2m4 0h1m3 0h1m1 0h1m2 0h1m2 0h1m3 0h4M295 353h40m2 0h2m3 0h1m3 0h3m1 0h1m1 0h1m1 0h1m2 0h4m2 0h1m3 0h4m8 0h1m3 0h1M295 354h42m1 0h4m2 0h1m1 0h2m4 0h2m2 0h1m1 0h7m1 0h2m1 0h2m6 0h2m1 0h1m5 0h1M295 355h8m1 0h4m1 0h16m1 0h9m1 0h3m1 0h4m1 0h1m4 0h3m1 0h1m1 0h3m3 0h3m9 0h1m6 0h1m1 0h1m3 0h1M294 356h1m1 0h7m2 0h5m1 0h3m1 0h13m1 0h1m1 0h4m1 0h3m1 0h1m2 0h1m6 0h1m2 0h2m5 0h2m6 0h1m1 0h2m14 0h1M297 357h2m1 0h1m1 0h4m2 0h1m2 0h3m1 0h1m1 0h2m1 0h2m1 0h2m1 0h1m1 0h3m1 0h1m3 0h2m1 0h1m3 0h1m3 0h1m2 0h1m1 0h1m3 0h1m1 0h1m1 0h1m3 0h2m7 0h1m11 0h2M294 358h5m1 0h1m3 0h3m1 0h2m1 0h3m1 0h3m1 0h4m4 0h5m1 0h1m2 0h3m3 0h1m3 0h1m4 0h1m13 0h1m11 0h1m3 0h1M294 359h2m3 0h5m1 0h3m2 0h1m4 0h1m8 0h1m1 0h1m3 0h1m1 0h1m1 0h1m2 0h1m1 0h1m1 0h1m1 0h2m1 0h2m2 0h1m1 0h1m2 0h1m5 0h1m10 0h1m5 0h1m5 0h2m1 0h1M297 360h1m4 0h1m1 0h1m1 0h3m2 0h1m2 0h1m3 0h3m2 0h2m4 0h2m1 0h4m18 0h1m13 0h1m3 0h1m14 0h1M297 361h1m1 0h2m6 0h1m2 0h3m7 0h1m2 0h1m1 0h2m8 0h1m2 0h1m8 0h1m8 0h1m4 0h1m2 0h2m13 0h1m4 0h1m2 0h1M300 362h1m5 0h1m1 0h1m8 0h1m7 0h1m10 0h1m4 0h1m4 0h1m1 0h1m13 0h1m23 0h2M298 363h1m12 0h2m7 0h1m5 0h1m6 0h1m8 0h1m3 0h1m18 0h1m1 0h1m2 0h1m15 0h1M312 364h1m13 0h1m36 0h1m10 0h1m12 0h1M303 365h1m19 0h1m27 0h2m11 0h1m3 0h1m3 0h1m13 0h1M333 366h1m6 0h1m43 0h1" stroke="#000" stroke-width="1" fill="none" transform="translate(0,0.5)" shape-rendering="crispEdges"/>
<text x="1" y="14.5" font-size="16" font-weight="bold" fill="#000" stroke="#000" stroke-width="0.18">A</text><text x="1.5" y="276" font-size="16" font-weight="bold" fill="#000" stroke="#000" stroke-width="0.18">B</text><text x="1.2" y="412.4" font-size="16" font-weight="bold" fill="#000" stroke="#000" stroke-width="0.18">C</text><text x="274.3" y="13.8" font-size="16" font-weight="bold" fill="#000" stroke="#000" stroke-width="0.18">D</text><text x="274.3" y="451.5" font-size="16" font-weight="bold" fill="#000" stroke="#000" stroke-width="0.18">E</text><rect x="27.5" y="2.5" width="117.0" height="109.0" fill="none" stroke="#111" stroke-width="1"/><line x1="70.5" y1="2.5" x2="70.5" y2="111.5" stroke="#444" stroke-width="1"/><line x1="27.5" y1="69.5" x2="144.5" y2="69.5" stroke="#444" stroke-width="1"/><line x1="25.5" y1="2.5" x2="27.5" y2="2.5" stroke="#222" stroke-width="1"/><line x1="25.5" y1="30.5" x2="27.5" y2="30.5" stroke="#222" stroke-width="1"/><line x1="25.5" y1="57.5" x2="27.5" y2="57.5" stroke="#222" stroke-width="1"/><line x1="25.5" y1="84.5" x2="27.5" y2="84.5" stroke="#222" stroke-width="1"/><line x1="25.5" y1="112.5" x2="27.5" y2="112.5" stroke="#222" stroke-width="1"/><line x1="28.5" y1="111.5" x2="28.5" y2="113.5" stroke="#222" stroke-width="1"/><line x1="35.5" y1="111.5" x2="35.5" y2="113.5" stroke="#222" stroke-width="1"/><line x1="42.5" y1="111.5" x2="42.5" y2="113.5" stroke="#222" stroke-width="1"/><line x1="49.5" y1="111.5" x2="49.5" y2="113.5" stroke="#222" stroke-width="1"/><line x1="57.5" y1="111.5" x2="57.5" y2="113.5" stroke="#222" stroke-width="1"/><line x1="64.5" y1="111.5" x2="64.5" y2="113.5" stroke="#222" stroke-width="1"/><line x1="71.5" y1="111.5" x2="71.5" y2="113.5" stroke="#222" stroke-width="1"/><line x1="79.5" y1="111.5" x2="79.5" y2="113.5" stroke="#222" stroke-width="1"/><line x1="86.5" y1="111.5" x2="86.5" y2="113.5" stroke="#222" stroke-width="1"/><line x1="93.5" y1="111.5" x2="93.5" y2="113.5" stroke="#222" stroke-width="1"/><line x1="101.5" y1="111.5" x2="101.5" y2="113.5" stroke="#222" stroke-width="1"/><line x1="108.5" y1="111.5" x2="108.5" y2="113.5" stroke="#222" stroke-width="1"/><line x1="115.5" y1="111.5" x2="115.5" y2="113.5" stroke="#222" stroke-width="1"/><line x1="123.5" y1="111.5" x2="123.5" y2="113.5" stroke="#222" stroke-width="1"/><line x1="130.5" y1="111.5" x2="130.5" y2="113.5" stroke="#222" stroke-width="1"/><line x1="137.5" y1="111.5" x2="137.5" y2="113.5" stroke="#222" stroke-width="1"/><line x1="144.5" y1="111.5" x2="144.5" y2="113.5" stroke="#222" stroke-width="1"/><rect x="152.5" y="3.5" width="115.0" height="105.0" fill="none" stroke="#111" stroke-width="1"/><line x1="197.5" y1="3.5" x2="197.5" y2="108.5" stroke="#444" stroke-width="1"/><line x1="152.5" y1="64.5" x2="267.5" y2="64.5" stroke="#444" stroke-width="1"/><line x1="150.5" y1="4.5" x2="152.5" y2="4.5" stroke="#222" stroke-width="1"/><line x1="150.5" y1="30.5" x2="152.5" y2="30.5" stroke="#222" stroke-width="1"/><line x1="150.5" y1="56.5" x2="152.5" y2="56.5" stroke="#222" stroke-width="1"/><line x1="150.5" y1="82.5" x2="152.5" y2="82.5" stroke="#222" stroke-width="1"/><line x1="150.5" y1="108.5" x2="152.5" y2="108.5" stroke="#222" stroke-width="1"/><line x1="152.5" y1="108.5" x2="152.5" y2="110.5" stroke="#222" stroke-width="1"/><line x1="160.5" y1="108.5" x2="160.5" y2="110.5" stroke="#222" stroke-width="1"/><line x1="167.5" y1="108.5" x2="167.5" y2="110.5" stroke="#222" stroke-width="1"/><line x1="174.5" y1="108.5" x2="174.5" y2="110.5" stroke="#222" stroke-width="1"/><line x1="181.5" y1="108.5" x2="181.5" y2="110.5" stroke="#222" stroke-width="1"/><line x1="188.5" y1="108.5" x2="188.5" y2="110.5" stroke="#222" stroke-width="1"/><line x1="196.5" y1="108.5" x2="196.5" y2="110.5" stroke="#222" stroke-width="1"/><line x1="203.5" y1="108.5" x2="203.5" y2="110.5" stroke="#222" stroke-width="1"/><line x1="210.5" y1="108.5" x2="210.5" y2="110.5" stroke="#222" stroke-width="1"/><line x1="217.5" y1="108.5" x2="217.5" y2="110.5" stroke="#222" stroke-width="1"/><line x1="224.5" y1="108.5" x2="224.5" y2="110.5" stroke="#222" stroke-width="1"/><line x1="232.5" y1="108.5" x2="232.5" y2="110.5" stroke="#222" stroke-width="1"/><line x1="239.5" y1="108.5" x2="239.5" y2="110.5" stroke="#222" stroke-width="1"/><line x1="246.5" y1="108.5" x2="246.5" y2="110.5" stroke="#222" stroke-width="1"/><line x1="253.5" y1="108.5" x2="253.5" y2="110.5" stroke="#222" stroke-width="1"/><line x1="260.5" y1="108.5" x2="260.5" y2="110.5" stroke="#222" stroke-width="1"/><line x1="268.5" y1="108.5" x2="268.5" y2="110.5" stroke="#222" stroke-width="1"/><rect x="28.5" y="130.5" width="114.0" height="107.0" fill="none" stroke="#111" stroke-width="1"/><line x1="72.5" y1="130.5" x2="72.5" y2="237.5" stroke="#444" stroke-width="1"/><line x1="28.5" y1="192.5" x2="142.5" y2="192.5" stroke="#444" stroke-width="1"/><line x1="26.5" y1="130.5" x2="28.5" y2="130.5" stroke="#222" stroke-width="1"/><line x1="26.5" y1="157.5" x2="28.5" y2="157.5" stroke="#222" stroke-width="1"/><line x1="26.5" y1="184.5" x2="28.5" y2="184.5" stroke="#222" stroke-width="1"/><line x1="26.5" y1="211.5" x2="28.5" y2="211.5" stroke="#222" stroke-width="1"/><line x1="26.5" y1="238.5" x2="28.5" y2="238.5" stroke="#222" stroke-width="1"/><line x1="28.5" y1="237.5" x2="28.5" y2="239.5" stroke="#222" stroke-width="1"/><line x1="36.5" y1="237.5" x2="36.5" y2="239.5" stroke="#222" stroke-width="1"/><line x1="43.5" y1="237.5" x2="43.5" y2="239.5" stroke="#222" stroke-width="1"/><line x1="50.5" y1="237.5" x2="50.5" y2="239.5" stroke="#222" stroke-width="1"/><line x1="57.5" y1="237.5" x2="57.5" y2="239.5" stroke="#222" stroke-width="1"/><line x1="64.5" y1="237.5" x2="64.5" y2="239.5" stroke="#222" stroke-width="1"/><line x1="71.5" y1="237.5" x2="71.5" y2="239.5" stroke="#222" stroke-width="1"/><line x1="78.5" y1="237.5" x2="78.5" y2="239.5" stroke="#222" stroke-width="1"/><line x1="86.5" y1="237.5" x2="86.5" y2="239.5" stroke="#222" stroke-width="1"/><line x1="93.5" y1="237.5" x2="93.5" y2="239.5" stroke="#222" stroke-width="1"/><line x1="100.5" y1="237.5" x2="100.5" y2="239.5" stroke="#222" stroke-width="1"/><line x1="107.5" y1="237.5" x2="107.5" y2="239.5" stroke="#222" stroke-width="1"/><line x1="114.5" y1="237.5" x2="114.5" y2="239.5" stroke="#222" stroke-width="1"/><line x1="121.5" y1="237.5" x2="121.5" y2="239.5" stroke="#222" stroke-width="1"/><line x1="128.5" y1="237.5" x2="128.5" y2="239.5" stroke="#222" stroke-width="1"/><line x1="135.5" y1="237.5" x2="135.5" y2="239.5" stroke="#222" stroke-width="1"/><line x1="142.5" y1="237.5" x2="142.5" y2="239.5" stroke="#222" stroke-width="1"/><rect x="152.5" y="130.5" width="114.0" height="106.0" fill="none" stroke="#111" stroke-width="1"/><line x1="194.5" y1="130.5" x2="194.5" y2="236.5" stroke="#444" stroke-width="1"/><line x1="152.5" y1="194.5" x2="266.5" y2="194.5" stroke="#444" stroke-width="1"/><line x1="150.5" y1="130.5" x2="152.5" y2="130.5" stroke="#222" stroke-width="1"/><line x1="150.5" y1="157.5" x2="152.5" y2="157.5" stroke="#222" stroke-width="1"/><line x1="150.5" y1="184.5" x2="152.5" y2="184.5" stroke="#222" stroke-width="1"/><line x1="150.5" y1="210.5" x2="152.5" y2="210.5" stroke="#222" stroke-width="1"/><line x1="150.5" y1="236.5" x2="152.5" y2="236.5" stroke="#222" stroke-width="1"/><line x1="152.5" y1="236.5" x2="152.5" y2="238.5" stroke="#222" stroke-width="1"/><line x1="160.5" y1="236.5" x2="160.5" y2="238.5" stroke="#222" stroke-width="1"/><line x1="167.5" y1="236.5" x2="167.5" y2="238.5" stroke="#222" stroke-width="1"/><line x1="174.5" y1="236.5" x2="174.5" y2="238.5" stroke="#222" stroke-width="1"/><line x1="181.5" y1="236.5" x2="181.5" y2="238.5" stroke="#222" stroke-width="1"/><line x1="188.5" y1="236.5" x2="188.5" y2="238.5" stroke="#222" stroke-width="1"/><line x1="195.5" y1="236.5" x2="195.5" y2="238.5" stroke="#222" stroke-width="1"/><line x1="202.5" y1="236.5" x2="202.5" y2="238.5" stroke="#222" stroke-width="1"/><line x1="210.5" y1="236.5" x2="210.5" y2="238.5" stroke="#222" stroke-width="1"/><line x1="217.5" y1="236.5" x2="217.5" y2="238.5" stroke="#222" stroke-width="1"/><line x1="224.5" y1="236.5" x2="224.5" y2="238.5" stroke="#222" stroke-width="1"/><line x1="231.5" y1="236.5" x2="231.5" y2="238.5" stroke="#222" stroke-width="1"/><line x1="238.5" y1="236.5" x2="238.5" y2="238.5" stroke="#222" stroke-width="1"/><line x1="245.5" y1="236.5" x2="245.5" y2="238.5" stroke="#222" stroke-width="1"/><line x1="252.5" y1="236.5" x2="252.5" y2="238.5" stroke="#222" stroke-width="1"/><line x1="259.5" y1="236.5" x2="259.5" y2="238.5" stroke="#222" stroke-width="1"/><line x1="266.5" y1="236.5" x2="266.5" y2="238.5" stroke="#222" stroke-width="1"/><text x="28.5" y="14.8" font-size="10.5" fill="#000" stroke="#000" stroke-width="0.18">0 h</text><text x="140.5" y="13.8" font-size="9.5" text-anchor="end" textLength="14.7" lengthAdjust="spacingAndGlyphs" fill="#000" stroke="#000" stroke-width="0.08">2 %</text><text x="139.8" y="82" font-size="9.5" text-anchor="end" textLength="14" lengthAdjust="spacingAndGlyphs" fill="#000" stroke="#000" stroke-width="0.08">4 %</text><text x="155.5" y="14.8" font-size="10.5" fill="#000" stroke="#000" stroke-width="0.18">24 h</text><text x="263.8" y="14.5" font-size="9.5" text-anchor="end" textLength="14.7" lengthAdjust="spacingAndGlyphs" fill="#000" stroke="#000" stroke-width="0.08">2 %</text><text x="262.5" y="75.5" font-size="9.5" text-anchor="end" textLength="15" lengthAdjust="spacingAndGlyphs" fill="#000" stroke="#000" stroke-width="0.08">6 %</text><text x="31" y="143" font-size="10.5" fill="#000" stroke="#000" stroke-width="0.18">48 h</text><text x="136" y="141.5" font-size="9.5" text-anchor="end" textLength="15" lengthAdjust="spacingAndGlyphs" fill="#000" stroke="#000" stroke-width="0.08">6 %</text><text x="138.7" y="203.5" font-size="9.5" text-anchor="end" textLength="20.5" lengthAdjust="spacingAndGlyphs" fill="#000" stroke="#000" stroke-width="0.08">16 %</text><text x="158.5" y="143" font-size="10.5" fill="#000" stroke="#000" stroke-width="0.18">72 h</text><text x="262" y="140.5" font-size="9.5" text-anchor="end" textLength="20.3" lengthAdjust="spacingAndGlyphs" fill="#000" stroke="#000" stroke-width="0.08">19 %</text><text x="261.4" y="204" font-size="9.5" text-anchor="end" textLength="20.5" lengthAdjust="spacingAndGlyphs" fill="#000" stroke="#000" stroke-width="0.08">18 %</text><text x="13" y="177.5" font-size="10" transform="rotate(-90 13 177.5)" textLength="76" lengthAdjust="spacingAndGlyphs" fill="#000" stroke="#000" stroke-width="0.08">Propidium iodine</text><text x="99.5" y="257.5" font-size="10" textLength="76" lengthAdjust="spacingAndGlyphs" fill="#000" stroke="#000" stroke-width="0.08">Annexin V - FITC</text><text x="30.5" y="245.5" font-size="6.5" text-anchor="middle" fill="#111">10<tspan font-size="4.7" dy="-2.9">0</tspan></text><text x="57" y="245.5" font-size="6.5" text-anchor="middle" fill="#111">10<tspan font-size="4.7" dy="-2.9">1</tspan></text><text x="85" y="245.5" font-size="6.5" text-anchor="middle" fill="#111">10<tspan font-size="4.7" dy="-2.9">2</tspan></text><text x="112.4" y="245.5" font-size="6.5" text-anchor="middle" fill="#111">10<tspan font-size="4.7" dy="-2.9">3</tspan></text><text x="140" y="245.5" font-size="6.5" text-anchor="middle" fill="#111">10<tspan font-size="4.7" dy="-2.9">4</tspan></text><text x="153.5" y="245.5" font-size="6.5" text-anchor="middle" fill="#111">10<tspan font-size="4.7" dy="-2.9">0</tspan></text><text x="181" y="245.5" font-size="6.5" text-anchor="middle" fill="#111">10<tspan font-size="4.7" dy="-2.9">1</tspan></text><text x="208.5" y="245.5" font-size="6.5" text-anchor="middle" fill="#111">10<tspan font-size="4.7" dy="-2.9">2</tspan></text><text x="236" y="245.5" font-size="6.5" text-anchor="middle" fill="#111">10<tspan font-size="4.7" dy="-2.9">3</tspan></text><text x="263.5" y="245.5" font-size="6.5" text-anchor="middle" fill="#111">10<tspan font-size="4.7" dy="-2.9">4</tspan></text><text x="22" y="107.7" font-size="6.5" text-anchor="middle" fill="#111" transform="rotate(-90 22 107.7)">10<tspan font-size="4.7" dy="-2.9">0</tspan></text><text x="22" y="83.5" font-size="6.5" text-anchor="middle" fill="#111" transform="rotate(-90 22 83.5)">10<tspan font-size="4.7" dy="-2.9">1</tspan></text><text x="22" y="55" font-size="6.5" text-anchor="middle" fill="#111" transform="rotate(-90 22 55)">10<tspan font-size="4.7" dy="-2.9">2</tspan></text><text x="22" y="27" font-size="6.5" text-anchor="middle" fill="#111" transform="rotate(-90 22 27)">10<tspan font-size="4.7" dy="-2.9">3</tspan></text><text x="22" y="4" font-size="6.5" text-anchor="middle" fill="#111" transform="rotate(-90 22 4)">10<tspan font-size="4.7" dy="-2.9">4</tspan></text><text x="22" y="234.4" font-size="6.5" text-anchor="middle" fill="#111" transform="rotate(-90 22 234.4)">10<tspan font-size="4.7" dy="-2.9">0</tspan></text><text x="22" y="210.2" font-size="6.5" text-anchor="middle" fill="#111" transform="rotate(-90 22 210.2)">10<tspan font-size="4.7" dy="-2.9">1</tspan></text><text x="22" y="183.3" font-size="6.5" text-anchor="middle" fill="#111" transform="rotate(-90 22 183.3)">10<tspan font-size="4.7" dy="-2.9">2</tspan></text><text x="22" y="157.7" font-size="6.5" text-anchor="middle" fill="#111" transform="rotate(-90 22 157.7)">10<tspan font-size="4.7" dy="-2.9">3</tspan></text><text x="22" y="132" font-size="6.5" text-anchor="middle" fill="#111" transform="rotate(-90 22 132)">10<tspan font-size="4.7" dy="-2.9">4</tspan></text><rect x="32.5" y="387.5" width="14.0" height="10.0" fill="none" stroke="#222" stroke-width="1"/><line x1="39.5" y1="386.5" x2="39.5" y2="388.5" stroke="#222" stroke-width="1"/><line x1="38.0" y1="386.5" x2="41.0" y2="386.5" stroke="#222" stroke-width="1"/><line x1="38.0" y1="388.5" x2="41.0" y2="388.5" stroke="#222" stroke-width="1"/><rect x="48.5" y="342" width="14.0" height="55.5" fill="none" stroke="#222" stroke-width="1"/><line x1="55.5" y1="336.5" x2="55.5" y2="348.5" stroke="#222" stroke-width="1"/><line x1="54.0" y1="336.5" x2="57.0" y2="336.5" stroke="#222" stroke-width="1"/><line x1="54.0" y1="348.5" x2="57.0" y2="348.5" stroke="#222" stroke-width="1"/><rect x="66" y="377" width="13.5" height="20.5" fill="none" stroke="#222" stroke-width="1"/><line x1="72.75" y1="372.5" x2="72.75" y2="382" stroke="#222" stroke-width="1"/><line x1="71.25" y1="372.5" x2="74.25" y2="372.5" stroke="#222" stroke-width="1"/><line x1="71.25" y1="382" x2="74.25" y2="382" stroke="#222" stroke-width="1"/><rect x="82" y="309" width="13.5" height="88.5" fill="none" stroke="#222" stroke-width="1"/><line x1="88.75" y1="306" x2="88.75" y2="312" stroke="#222" stroke-width="1"/><line x1="87.25" y1="306" x2="90.25" y2="306" stroke="#222" stroke-width="1"/><line x1="87.25" y1="312" x2="90.25" y2="312" stroke="#222" stroke-width="1"/><rect x="98.5" y="371.5" width="13.0" height="26.0" fill="none" stroke="#222" stroke-width="1"/><line x1="105.0" y1="366.5" x2="105.0" y2="378" stroke="#222" stroke-width="1"/><line x1="103.5" y1="366.5" x2="106.5" y2="366.5" stroke="#222" stroke-width="1"/><line x1="103.5" y1="378" x2="106.5" y2="378" stroke="#222" stroke-width="1"/><rect x="114.5" y="380.5" width="12.5" height="17.0" fill="none" stroke="#222" stroke-width="1"/><line x1="120.75" y1="378" x2="120.75" y2="384" stroke="#222" stroke-width="1"/><line x1="119.25" y1="378" x2="122.25" y2="378" stroke="#222" stroke-width="1"/><line x1="119.25" y1="384" x2="122.25" y2="384" stroke="#222" stroke-width="1"/><rect x="31.5" y="279.5" width="97.5" height="118.0" fill="none" stroke="#111" stroke-width="1"/><text x="28.5" y="282.5" font-size="8.5" text-anchor="end" fill="#000" stroke="#000" stroke-width="0.0">35</text><line x1="31.5" y1="280.5" x2="34.5" y2="280.5" stroke="#222" stroke-width="1"/><text x="28.5" y="297.3" font-size="8.5" text-anchor="end" fill="#000" stroke="#000" stroke-width="0.0">30</text><line x1="31.5" y1="294.5" x2="34.5" y2="294.5" stroke="#222" stroke-width="1"/><text x="28.5" y="313.8" font-size="8.5" text-anchor="end" fill="#000" stroke="#000" stroke-width="0.0">25</text><line x1="31.5" y1="311.5" x2="34.5" y2="311.5" stroke="#222" stroke-width="1"/><text x="28.5" y="333.5" font-size="8.5" text-anchor="end" fill="#000" stroke="#000" stroke-width="0.0">20</text><line x1="31.5" y1="330.5" x2="34.5" y2="330.5" stroke="#222" stroke-width="1"/><text x="28.5" y="350" font-size="8.5" text-anchor="end" fill="#000" stroke="#000" stroke-width="0.0">15</text><line x1="31.5" y1="347.5" x2="34.5" y2="347.5" stroke="#222" stroke-width="1"/><text x="28.5" y="366" font-size="8.5" text-anchor="end" fill="#000" stroke="#000" stroke-width="0.0">10</text><line x1="31.5" y1="363.5" x2="34.5" y2="363.5" stroke="#222" stroke-width="1"/><text x="28.5" y="382.2" font-size="8.5" text-anchor="end" fill="#000" stroke="#000" stroke-width="0.0">5</text><line x1="31.5" y1="379.5" x2="34.5" y2="379.5" stroke="#222" stroke-width="1"/><text x="28.5" y="398.5" font-size="8.5" text-anchor="end" fill="#000" stroke="#000" stroke-width="0.0">0</text><line x1="31.5" y1="396.5" x2="34.5" y2="396.5" stroke="#222" stroke-width="1"/><line x1="31.5" y1="398.5" x2="33" y2="398.5" stroke="#444" stroke-width="1"/><line x1="31.5" y1="394.5" x2="33" y2="394.5" stroke="#444" stroke-width="1"/><line x1="31.5" y1="391.5" x2="33" y2="391.5" stroke="#444" stroke-width="1"/><line x1="31.5" y1="387.5" x2="33" y2="387.5" stroke="#444" stroke-width="1"/><line x1="31.5" y1="384.5" x2="33" y2="384.5" stroke="#444" stroke-width="1"/><line x1="31.5" y1="381.5" x2="33" y2="381.5" stroke="#444" stroke-width="1"/><line x1="31.5" y1="377.5" x2="33" y2="377.5" stroke="#444" stroke-width="1"/><line x1="31.5" y1="374.5" x2="33" y2="374.5" stroke="#444" stroke-width="1"/><line x1="31.5" y1="371.5" x2="33" y2="371.5" stroke="#444" stroke-width="1"/><line x1="31.5" y1="367.5" x2="33" y2="367.5" stroke="#444" stroke-width="1"/><line x1="31.5" y1="364.5" x2="33" y2="364.5" stroke="#444" stroke-width="1"/><line x1="31.5" y1="360.5" x2="33" y2="360.5" stroke="#444" stroke-width="1"/><line x1="31.5" y1="357.5" x2="33" y2="357.5" stroke="#444" stroke-width="1"/><line x1="31.5" y1="354.5" x2="33" y2="354.5" stroke="#444" stroke-width="1"/><line x1="31.5" y1="350.5" x2="33" y2="350.5" stroke="#444" stroke-width="1"/><line x1="31.5" y1="347.5" x2="33" y2="347.5" stroke="#444" stroke-width="1"/><line x1="31.5" y1="344.5" x2="33" y2="344.5" stroke="#444" stroke-width="1"/><line x1="31.5" y1="340.5" x2="33" y2="340.5" stroke="#444" stroke-width="1"/><line x1="31.5" y1="337.5" x2="33" y2="337.5" stroke="#444" stroke-width="1"/><line x1="31.5" y1="333.5" x2="33" y2="333.5" stroke="#444" stroke-width="1"/><line x1="31.5" y1="330.5" x2="33" y2="330.5" stroke="#444" stroke-width="1"/><line x1="31.5" y1="327.5" x2="33" y2="327.5" stroke="#444" stroke-width="1"/><line x1="31.5" y1="323.5" x2="33" y2="323.5" stroke="#444" stroke-width="1"/><line x1="31.5" y1="320.5" x2="33" y2="320.5" stroke="#444" stroke-width="1"/><line x1="31.5" y1="317.5" x2="33" y2="317.5" stroke="#444" stroke-width="1"/><line x1="31.5" y1="313.5" x2="33" y2="313.5" stroke="#444" stroke-width="1"/><line x1="31.5" y1="310.5" x2="33" y2="310.5" stroke="#444" stroke-width="1"/><line x1="31.5" y1="306.5" x2="33" y2="306.5" stroke="#444" stroke-width="1"/><line x1="31.5" y1="303.5" x2="33" y2="303.5" stroke="#444" stroke-width="1"/><line x1="31.5" y1="300.5" x2="33" y2="300.5" stroke="#444" stroke-width="1"/><line x1="31.5" y1="296.5" x2="33" y2="296.5" stroke="#444" stroke-width="1"/><line x1="31.5" y1="293.5" x2="33" y2="293.5" stroke="#444" stroke-width="1"/><line x1="31.5" y1="290.5" x2="33" y2="290.5" stroke="#444" stroke-width="1"/><line x1="31.5" y1="286.5" x2="33" y2="286.5" stroke="#444" stroke-width="1"/><line x1="31.5" y1="283.5" x2="33" y2="283.5" stroke="#444" stroke-width="1"/><text x="35.2" y="291.5" font-size="10.5" textLength="24" lengthAdjust="spacingAndGlyphs" fill="#000" stroke="#000" stroke-width="0.18">U266</text><rect x="156" y="396" width="22.5" height="1" fill="none" stroke="#222" stroke-width="1"/><rect x="184.5" y="341" width="21.0" height="56" fill="none" stroke="#222" stroke-width="1"/><line x1="195.0" y1="333.5" x2="195.0" y2="347.5" stroke="#222" stroke-width="1"/><line x1="193.5" y1="333.5" x2="196.5" y2="333.5" stroke="#222" stroke-width="1"/><line x1="193.5" y1="347.5" x2="196.5" y2="347.5" stroke="#222" stroke-width="1"/><rect x="211.5" y="317" width="21.5" height="80" fill="none" stroke="#222" stroke-width="1"/><line x1="222.25" y1="305" x2="222.25" y2="329.5" stroke="#222" stroke-width="1"/><line x1="220.75" y1="305" x2="223.75" y2="305" stroke="#222" stroke-width="1"/><line x1="220.75" y1="329.5" x2="223.75" y2="329.5" stroke="#222" stroke-width="1"/><rect x="238.5" y="378" width="22.0" height="19" fill="none" stroke="#222" stroke-width="1"/><line x1="249.5" y1="372" x2="249.5" y2="384.5" stroke="#222" stroke-width="1"/><line x1="248.0" y1="372" x2="251.0" y2="372" stroke="#222" stroke-width="1"/><line x1="248.0" y1="384.5" x2="251.0" y2="384.5" stroke="#222" stroke-width="1"/><rect x="153.5" y="279.5" width="110.0" height="117.5" fill="none" stroke="#111" stroke-width="1"/><text x="150.5" y="285.3" font-size="8.5" text-anchor="end" fill="#000" stroke="#000" stroke-width="0.0">50</text><line x1="153.5" y1="282.5" x2="156.5" y2="282.5" stroke="#222" stroke-width="1"/><text x="150.5" y="302.5" font-size="8.5" text-anchor="end" fill="#000" stroke="#000" stroke-width="0.0">40</text><line x1="153.5" y1="300.5" x2="156.5" y2="300.5" stroke="#222" stroke-width="1"/><text x="150.5" y="327" font-size="8.5" text-anchor="end" fill="#000" stroke="#000" stroke-width="0.0">30</text><line x1="153.5" y1="324.5" x2="156.5" y2="324.5" stroke="#222" stroke-width="1"/><text x="150.5" y="350" font-size="8.5" text-anchor="end" fill="#000" stroke="#000" stroke-width="0.0">20</text><line x1="153.5" y1="347.5" x2="156.5" y2="347.5" stroke="#222" stroke-width="1"/><text x="150.5" y="375.5" font-size="8.5" text-anchor="end" fill="#000" stroke="#000" stroke-width="0.0">10</text><line x1="153.5" y1="372.5" x2="156.5" y2="372.5" stroke="#222" stroke-width="1"/><text x="150.5" y="397.5" font-size="8.5" text-anchor="end" fill="#000" stroke="#000" stroke-width="0.0">0</text><line x1="153.5" y1="394.5" x2="156.5" y2="394.5" stroke="#222" stroke-width="1"/><line x1="153.5" y1="397.5" x2="155" y2="397.5" stroke="#444" stroke-width="1"/><line x1="153.5" y1="392.5" x2="155" y2="392.5" stroke="#444" stroke-width="1"/><line x1="153.5" y1="388.5" x2="155" y2="388.5" stroke="#444" stroke-width="1"/><line x1="153.5" y1="383.5" x2="155" y2="383.5" stroke="#444" stroke-width="1"/><line x1="153.5" y1="379.5" x2="155" y2="379.5" stroke="#444" stroke-width="1"/><line x1="153.5" y1="374.5" x2="155" y2="374.5" stroke="#444" stroke-width="1"/><line x1="153.5" y1="369.5" x2="155" y2="369.5" stroke="#444" stroke-width="1"/><line x1="153.5" y1="365.5" x2="155" y2="365.5" stroke="#444" stroke-width="1"/><line x1="153.5" y1="360.5" x2="155" y2="360.5" stroke="#444" stroke-width="1"/><line x1="153.5" y1="356.5" x2="155" y2="356.5" stroke="#444" stroke-width="1"/><line x1="153.5" y1="351.5" x2="155" y2="351.5" stroke="#444" stroke-width="1"/><line x1="153.5" y1="346.5" x2="155" y2="346.5" stroke="#444" stroke-width="1"/><line x1="153.5" y1="342.5" x2="155" y2="342.5" stroke="#444" stroke-width="1"/><line x1="153.5" y1="337.5" x2="155" y2="337.5" stroke="#444" stroke-width="1"/><line x1="153.5" y1="333.5" x2="155" y2="333.5" stroke="#444" stroke-width="1"/><line x1="153.5" y1="328.5" x2="155" y2="328.5" stroke="#444" stroke-width="1"/><line x1="153.5" y1="323.5" x2="155" y2="323.5" stroke="#444" stroke-width="1"/><line x1="153.5" y1="319.5" x2="155" y2="319.5" stroke="#444" stroke-width="1"/><line x1="153.5" y1="314.5" x2="155" y2="314.5" stroke="#444" stroke-width="1"/><line x1="153.5" y1="310.5" x2="155" y2="310.5" stroke="#444" stroke-width="1"/><line x1="153.5" y1="305.5" x2="155" y2="305.5" stroke="#444" stroke-width="1"/><line x1="153.5" y1="300.5" x2="155" y2="300.5" stroke="#444" stroke-width="1"/><line x1="153.5" y1="296.5" x2="155" y2="296.5" stroke="#444" stroke-width="1"/><line x1="153.5" y1="291.5" x2="155" y2="291.5" stroke="#444" stroke-width="1"/><line x1="153.5" y1="287.5" x2="155" y2="287.5" stroke="#444" stroke-width="1"/><text x="155.6" y="290.5" font-size="10.5" textLength="47.5" lengthAdjust="spacingAndGlyphs" fill="#000" stroke="#000" stroke-width="0.18">NCI-H929</text><text x="44.2" y="377" font-size="9" transform="rotate(-90 44.2 377)" textLength="24" lengthAdjust="spacingAndGlyphs" fill="#000" stroke="#000" stroke-width="0.08">Control</text><text x="59.3" y="334.4" font-size="9" transform="rotate(-90 59.3 334.4)" textLength="21" lengthAdjust="spacingAndGlyphs" fill="#000" stroke="#000" stroke-width="0.08">IFN-α</text><text x="76.4" y="372" font-size="9" transform="rotate(-90 76.4 372)" textLength="54" lengthAdjust="spacingAndGlyphs" fill="#000" stroke="#000" stroke-width="0.08">IFN-α + zVAD</text><text x="92.5" y="304" font-size="9" transform="rotate(-90 92.5 304)" textLength="23" lengthAdjust="spacingAndGlyphs" fill="#000" stroke="#000" stroke-width="0.08">IFN-β</text><text x="108.5" y="360.5" font-size="9" transform="rotate(-90 108.5 360.5)" textLength="51.5" lengthAdjust="spacingAndGlyphs" fill="#000" stroke="#000" stroke-width="0.08">IFN-β + zVAD</text><text x="122.5" y="374" font-size="9" transform="rotate(-90 122.5 374)" textLength="20" lengthAdjust="spacingAndGlyphs" fill="#000" stroke="#000" stroke-width="0.08">IFN-γ</text><text x="172.3" y="379.5" font-size="9" transform="rotate(-90 172.3 379.5)" textLength="24.5" lengthAdjust="spacingAndGlyphs" fill="#000" stroke="#000" stroke-width="0.08">Control</text><text x="197.3" y="331.5" font-size="9" transform="rotate(-90 197.3 331.5)" textLength="20" lengthAdjust="spacingAndGlyphs" fill="#000" stroke="#000" stroke-width="0.08">IFN-α</text><text x="224.2" y="303.5" font-size="9" transform="rotate(-90 224.2 303.5)" textLength="18.5" lengthAdjust="spacingAndGlyphs" fill="#000" stroke="#000" stroke-width="0.08">IFN-β</text><text x="252" y="369.5" font-size="9" transform="rotate(-90 252 369.5)" textLength="16" lengthAdjust="spacingAndGlyphs" fill="#000" stroke="#000" stroke-width="0.08">IFN-γ</text><text x="13.2" y="371.2" font-size="12" transform="rotate(-90 13.2 371.2)" textLength="75.5" lengthAdjust="spacingAndGlyphs" fill="#000" stroke="#000" stroke-width="0.18">Apoptosis (%)</text><rect x="35.5" y="415.5" width="87" height="129.5" fill="none" stroke="#111" stroke-width="1"/><rect x="127.5" y="415.5" width="107" height="129.5" fill="none" stroke="#111" stroke-width="1"/><text x="32" y="422.8" font-size="9" text-anchor="end" textLength="14" lengthAdjust="spacingAndGlyphs" fill="#000" stroke="#000" stroke-width="0.08">100</text><text x="32" y="484" font-size="9" text-anchor="end" fill="#000" stroke="#000" stroke-width="0.08">10</text><text x="25" y="546.5" font-size="9" text-anchor="end" fill="#000" stroke="#000" stroke-width="0.08">1</text><line x1="35.5" y1="526.5" x2="37" y2="526.5" stroke="#333" stroke-width="1"/><line x1="127.5" y1="526.5" x2="129" y2="526.5" stroke="#333" stroke-width="1"/><line x1="35.5" y1="515.5" x2="37" y2="515.5" stroke="#333" stroke-width="1"/><line x1="127.5" y1="515.5" x2="129" y2="515.5" stroke="#333" stroke-width="1"/><line x1="35.5" y1="508.5" x2="37" y2="508.5" stroke="#333" stroke-width="1"/><line x1="127.5" y1="508.5" x2="129" y2="508.5" stroke="#333" stroke-width="1"/><line x1="35.5" y1="502.5" x2="37" y2="502.5" stroke="#333" stroke-width="1"/><line x1="127.5" y1="502.5" x2="129" y2="502.5" stroke="#333" stroke-width="1"/><line x1="35.5" y1="497.5" x2="37" y2="497.5" stroke="#333" stroke-width="1"/><line x1="127.5" y1="497.5" x2="129" y2="497.5" stroke="#333" stroke-width="1"/><line x1="35.5" y1="493.5" x2="37" y2="493.5" stroke="#333" stroke-width="1"/><line x1="127.5" y1="493.5" x2="129" y2="493.5" stroke="#333" stroke-width="1"/><line x1="35.5" y1="489.5" x2="37" y2="489.5" stroke="#333" stroke-width="1"/><line x1="127.5" y1="489.5" x2="129" y2="489.5" stroke="#333" stroke-width="1"/><line x1="35.5" y1="486.5" x2="37" y2="486.5" stroke="#333" stroke-width="1"/><line x1="127.5" y1="486.5" x2="129" y2="486.5" stroke="#333" stroke-width="1"/><line x1="35.5" y1="483.5" x2="38" y2="483.5" stroke="#333" stroke-width="1"/><line x1="35.5" y1="464.5" x2="37" y2="464.5" stroke="#333" stroke-width="1"/><line x1="127.5" y1="464.5" x2="129" y2="464.5" stroke="#333" stroke-width="1"/><line x1="35.5" y1="453.5" x2="37" y2="453.5" stroke="#333" stroke-width="1"/><line x1="127.5" y1="453.5" x2="129" y2="453.5" stroke="#333" stroke-width="1"/><line x1="35.5" y1="446.5" x2="37" y2="446.5" stroke="#333" stroke-width="1"/><line x1="127.5" y1="446.5" x2="129" y2="446.5" stroke="#333" stroke-width="1"/><line x1="35.5" y1="440.5" x2="37" y2="440.5" stroke="#333" stroke-width="1"/><line x1="127.5" y1="440.5" x2="129" y2="440.5" stroke="#333" stroke-width="1"/><line x1="35.5" y1="435.5" x2="37" y2="435.5" stroke="#333" stroke-width="1"/><line x1="127.5" y1="435.5" x2="129" y2="435.5" stroke="#333" stroke-width="1"/><line x1="35.5" y1="431.5" x2="37" y2="431.5" stroke="#333" stroke-width="1"/><line x1="127.5" y1="431.5" x2="129" y2="431.5" stroke="#333" stroke-width="1"/><line x1="35.5" y1="427.5" x2="37" y2="427.5" stroke="#333" stroke-width="1"/><line x1="127.5" y1="427.5" x2="129" y2="427.5" stroke="#333" stroke-width="1"/><line x1="35.5" y1="424.5" x2="37" y2="424.5" stroke="#333" stroke-width="1"/><line x1="127.5" y1="424.5" x2="129" y2="424.5" stroke="#333" stroke-width="1"/><line x1="35.5" y1="421.5" x2="38" y2="421.5" stroke="#333" stroke-width="1"/><text x="35.7" y="556.5" font-size="8.5" text-anchor="middle" fill="#000" stroke="#000" stroke-width="0.0">0</text><text x="55.1" y="556.5" font-size="8.5" text-anchor="middle" fill="#000" stroke="#000" stroke-width="0.0">5</text><text x="76.5" y="556.5" font-size="8.5" text-anchor="middle" fill="#000" stroke="#000" stroke-width="0.0">10</text><text x="97.3" y="556.5" font-size="8.5" text-anchor="middle" fill="#000" stroke="#000" stroke-width="0.0">15</text><text x="118.8" y="556.5" font-size="8.5" text-anchor="middle" fill="#000" stroke="#000" stroke-width="0.0">20</text><line x1="36.5" y1="545" x2="36.5" y2="542" stroke="#333" stroke-width="1"/><line x1="40.5" y1="545" x2="40.5" y2="543.5" stroke="#333" stroke-width="1"/><line x1="44.5" y1="545" x2="44.5" y2="543.5" stroke="#333" stroke-width="1"/><line x1="48.5" y1="545" x2="48.5" y2="543.5" stroke="#333" stroke-width="1"/><line x1="52.5" y1="545" x2="52.5" y2="543.5" stroke="#333" stroke-width="1"/><line x1="57.5" y1="545" x2="57.5" y2="542" stroke="#333" stroke-width="1"/><line x1="61.5" y1="545" x2="61.5" y2="543.5" stroke="#333" stroke-width="1"/><line x1="65.5" y1="545" x2="65.5" y2="543.5" stroke="#333" stroke-width="1"/><line x1="69.5" y1="545" x2="69.5" y2="543.5" stroke="#333" stroke-width="1"/><line x1="73.5" y1="545" x2="73.5" y2="543.5" stroke="#333" stroke-width="1"/><line x1="77.5" y1="545" x2="77.5" y2="542" stroke="#333" stroke-width="1"/><line x1="81.5" y1="545" x2="81.5" y2="543.5" stroke="#333" stroke-width="1"/><line x1="86.5" y1="545" x2="86.5" y2="543.5" stroke="#333" stroke-width="1"/><line x1="90.5" y1="545" x2="90.5" y2="543.5" stroke="#333" stroke-width="1"/><line x1="94.5" y1="545" x2="94.5" y2="543.5" stroke="#333" stroke-width="1"/><line x1="98.5" y1="545" x2="98.5" y2="542" stroke="#333" stroke-width="1"/><line x1="102.5" y1="545" x2="102.5" y2="543.5" stroke="#333" stroke-width="1"/><line x1="106.5" y1="545" x2="106.5" y2="543.5" stroke="#333" stroke-width="1"/><line x1="110.5" y1="545" x2="110.5" y2="543.5" stroke="#333" stroke-width="1"/><line x1="114.5" y1="545" x2="114.5" y2="543.5" stroke="#333" stroke-width="1"/><line x1="118.5" y1="545" x2="118.5" y2="542" stroke="#333" stroke-width="1"/><text x="131" y="556.5" font-size="8.5" text-anchor="middle" fill="#000" stroke="#000" stroke-width="0.0">0</text><text x="148.2" y="556.5" font-size="8.5" text-anchor="middle" fill="#000" stroke="#000" stroke-width="0.0">10</text><text x="169.6" y="556.5" font-size="8.5" text-anchor="middle" fill="#000" stroke="#000" stroke-width="0.0">20</text><text x="191.5" y="556.5" font-size="8.5" text-anchor="middle" fill="#000" stroke="#000" stroke-width="0.0">30</text><text x="212.8" y="556.5" font-size="8.5" text-anchor="middle" fill="#000" stroke="#000" stroke-width="0.0">40</text><text x="230.8" y="556.5" font-size="8.5" text-anchor="middle" fill="#000" stroke="#000" stroke-width="0.0">50</text><line x1="128.5" y1="545" x2="128.5" y2="542" stroke="#333" stroke-width="1"/><line x1="132.5" y1="545" x2="132.5" y2="543.5" stroke="#333" stroke-width="1"/><line x1="136.5" y1="545" x2="136.5" y2="543.5" stroke="#333" stroke-width="1"/><line x1="140.5" y1="545" x2="140.5" y2="543.5" stroke="#333" stroke-width="1"/><line x1="144.5" y1="545" x2="144.5" y2="543.5" stroke="#333" stroke-width="1"/><line x1="149.5" y1="545" x2="149.5" y2="542" stroke="#333" stroke-width="1"/><line x1="153.5" y1="545" x2="153.5" y2="543.5" stroke="#333" stroke-width="1"/><line x1="157.5" y1="545" x2="157.5" y2="543.5" stroke="#333" stroke-width="1"/><line x1="161.5" y1="545" x2="161.5" y2="543.5" stroke="#333" stroke-width="1"/><line x1="165.5" y1="545" x2="165.5" y2="543.5" stroke="#333" stroke-width="1"/><line x1="169.5" y1="545" x2="169.5" y2="542" stroke="#333" stroke-width="1"/><line x1="173.5" y1="545" x2="173.5" y2="543.5" stroke="#333" stroke-width="1"/><line x1="177.5" y1="545" x2="177.5" y2="543.5" stroke="#333" stroke-width="1"/><line x1="182.5" y1="545" x2="182.5" y2="543.5" stroke="#333" stroke-width="1"/><line x1="186.5" y1="545" x2="186.5" y2="543.5" stroke="#333" stroke-width="1"/><line x1="190.5" y1="545" x2="190.5" y2="542" stroke="#333" stroke-width="1"/><line x1="194.5" y1="545" x2="194.5" y2="543.5" stroke="#333" stroke-width="1"/><line x1="198.5" y1="545" x2="198.5" y2="543.5" stroke="#333" stroke-width="1"/><line x1="202.5" y1="545" x2="202.5" y2="543.5" stroke="#333" stroke-width="1"/><line x1="206.5" y1="545" x2="206.5" y2="543.5" stroke="#333" stroke-width="1"/><line x1="210.5" y1="545" x2="210.5" y2="542" stroke="#333" stroke-width="1"/><line x1="215.5" y1="545" x2="215.5" y2="543.5" stroke="#333" stroke-width="1"/><line x1="219.5" y1="545" x2="219.5" y2="543.5" stroke="#333" stroke-width="1"/><line x1="223.5" y1="545" x2="223.5" y2="543.5" stroke="#333" stroke-width="1"/><line x1="227.5" y1="545" x2="227.5" y2="543.5" stroke="#333" stroke-width="1"/><line x1="231.5" y1="545" x2="231.5" y2="542" stroke="#333" stroke-width="1"/><text x="34.3" y="568" font-size="11" textLength="93.5" lengthAdjust="spacingAndGlyphs" fill="#000" stroke="#000" stroke-width="0.18">IFN-α (U/mL x 100)</text><text x="161" y="569.5" font-size="11" textLength="41" lengthAdjust="spacingAndGlyphs" fill="#000" stroke="#000" stroke-width="0.18">Time (h)</text><text x="11.5" y="550" font-size="11" transform="rotate(-90 11.5 550)" textLength="130" lengthAdjust="spacingAndGlyphs" fill="#000" stroke="#000" stroke-width="0.18">Relative Clonogenicity (%)</text><polyline points="34.6,416.8 38.5,437.3 42.4,447.7 57.7,480.7 79.5,490.3 118.1,504.6" fill="none" stroke="#000" stroke-width="1.2"/><path d="M34.6 413.8L37.6 419.2L31.6 419.2Z" fill="#fff" stroke="#000" stroke-width="1"/><path d="M38.5 434.3L41.5 439.7L35.5 439.7Z" fill="#fff" stroke="#000" stroke-width="1"/><path d="M42.4 444.7L45.4 450.09999999999997L39.4 450.09999999999997Z" fill="#fff" stroke="#000" stroke-width="1"/><path d="M57.7 477.7L60.7 483.09999999999997L54.7 483.09999999999997Z" fill="#fff" stroke="#000" stroke-width="1"/><path d="M79.5 487.3L82.5 492.7L76.5 492.7Z" fill="#fff" stroke="#000" stroke-width="1"/><path d="M118.1 501.6L121.1 507.0L115.1 507.0Z" fill="#fff" stroke="#000" stroke-width="1"/><polyline points="128,416.8 140.8,438 179.3,448.7 231.2,507.3" fill="none" stroke="#000" stroke-width="1.4"/><polyline points="128,416.8 140.8,442 179.3,473.3 231.5,546" fill="none" stroke="#000" stroke-width="1.4"/><path d="M128 413.8L131.0 419.2L125.0 419.2Z" fill="#fff" stroke="#000" stroke-width="1"/><path d="M140.8 435.0L143.8 440.4L137.8 440.4Z" fill="#fff" stroke="#000" stroke-width="1"/><path d="M179.3 445.7L182.3 451.09999999999997L176.3 451.09999999999997Z" fill="#fff" stroke="#000" stroke-width="1"/><path d="M231.2 504.3L234.2 509.7L228.2 509.7Z" fill="#fff" stroke="#000" stroke-width="1"/><circle cx="128" cy="416.8" r="2.6" fill="#fff" stroke="#000" stroke-width="1"/><circle cx="140.8" cy="442" r="2.6" fill="#fff" stroke="#000" stroke-width="1"/><circle cx="179.3" cy="473.3" r="2.6" fill="#fff" stroke="#000" stroke-width="1"/><circle cx="231.5" cy="546" r="2.6" fill="#fff" stroke="#000" stroke-width="1"/><polygon points="312.2,23.7 385.3,17.5 387.6,47.7 346.8,58.8 303.2,47.7" fill="none" stroke="#111" stroke-width="1"/><polyline points="463.2,96.5 466.4,68.5 497.6,50.9 512.5,57.8" fill="none" stroke="#111" stroke-width="1"/><rect x="295.5" y="9.5" width="94.0" height="88.0" fill="none" stroke="#111" stroke-width="1"/><line x1="293.5" y1="10.5" x2="295.5" y2="10.5" stroke="#222" stroke-width="1"/><line x1="293.5" y1="15.5" x2="295.5" y2="15.5" stroke="#222" stroke-width="1"/><line x1="293.5" y1="20.5" x2="295.5" y2="20.5" stroke="#222" stroke-width="1"/><line x1="293.5" y1="26.5" x2="295.5" y2="26.5" stroke="#222" stroke-width="1"/><line x1="293.5" y1="32.5" x2="295.5" y2="32.5" stroke="#222" stroke-width="1"/><line x1="293.5" y1="37.5" x2="295.5" y2="37.5" stroke="#222" stroke-width="1"/><line x1="293.5" y1="42.5" x2="295.5" y2="42.5" stroke="#222" stroke-width="1"/><line x1="293.5" y1="48.5" x2="295.5" y2="48.5" stroke="#222" stroke-width="1"/><line x1="293.5" y1="54.5" x2="295.5" y2="54.5" stroke="#222" stroke-width="1"/><line x1="293.5" y1="59.5" x2="295.5" y2="59.5" stroke="#222" stroke-width="1"/><line x1="293.5" y1="64.5" x2="295.5" y2="64.5" stroke="#222" stroke-width="1"/><line x1="293.5" y1="70.5" x2="295.5" y2="70.5" stroke="#222" stroke-width="1"/><line x1="293.5" y1="76.5" x2="295.5" y2="76.5" stroke="#222" stroke-width="1"/><line x1="293.5" y1="81.5" x2="295.5" y2="81.5" stroke="#222" stroke-width="1"/><line x1="293.5" y1="86.5" x2="295.5" y2="86.5" stroke="#222" stroke-width="1"/><line x1="293.5" y1="92.5" x2="295.5" y2="92.5" stroke="#222" stroke-width="1"/><line x1="293.5" y1="98.5" x2="295.5" y2="98.5" stroke="#222" stroke-width="1"/><rect x="408.5" y="8.5" width="104.0" height="88.0" fill="none" stroke="#111" stroke-width="1"/><line x1="406.5" y1="8.5" x2="408.5" y2="8.5" stroke="#222" stroke-width="1"/><line x1="406.5" y1="14.5" x2="408.5" y2="14.5" stroke="#222" stroke-width="1"/><line x1="406.5" y1="20.5" x2="408.5" y2="20.5" stroke="#222" stroke-width="1"/><line x1="406.5" y1="25.5" x2="408.5" y2="25.5" stroke="#222" stroke-width="1"/><line x1="406.5" y1="30.5" x2="408.5" y2="30.5" stroke="#222" stroke-width="1"/><line x1="406.5" y1="36.5" x2="408.5" y2="36.5" stroke="#222" stroke-width="1"/><line x1="406.5" y1="42.5" x2="408.5" y2="42.5" stroke="#222" stroke-width="1"/><line x1="406.5" y1="47.5" x2="408.5" y2="47.5" stroke="#222" stroke-width="1"/><line x1="406.5" y1="52.5" x2="408.5" y2="52.5" stroke="#222" stroke-width="1"/><line x1="406.5" y1="58.5" x2="408.5" y2="58.5" stroke="#222" stroke-width="1"/><line x1="406.5" y1="64.5" x2="408.5" y2="64.5" stroke="#222" stroke-width="1"/><line x1="406.5" y1="69.5" x2="408.5" y2="69.5" stroke="#222" stroke-width="1"/><line x1="406.5" y1="74.5" x2="408.5" y2="74.5" stroke="#222" stroke-width="1"/><line x1="406.5" y1="80.5" x2="408.5" y2="80.5" stroke="#222" stroke-width="1"/><line x1="406.5" y1="86.5" x2="408.5" y2="86.5" stroke="#222" stroke-width="1"/><line x1="406.5" y1="91.5" x2="408.5" y2="91.5" stroke="#222" stroke-width="1"/><line x1="406.5" y1="96.5" x2="408.5" y2="96.5" stroke="#222" stroke-width="1"/><rect x="295.5" y="131.5" width="93.0" height="86.0" fill="none" stroke="#111" stroke-width="1"/><line x1="366.5" y1="131.5" x2="366.5" y2="217.5" stroke="#222" stroke-width="1"/><line x1="295.5" y1="177.5" x2="388.5" y2="177.5" stroke="#222" stroke-width="1"/><line x1="293.5" y1="132.5" x2="295.5" y2="132.5" stroke="#222" stroke-width="1"/><line x1="293.5" y1="137.5" x2="295.5" y2="137.5" stroke="#222" stroke-width="1"/><line x1="293.5" y1="142.5" x2="295.5" y2="142.5" stroke="#222" stroke-width="1"/><line x1="293.5" y1="148.5" x2="295.5" y2="148.5" stroke="#222" stroke-width="1"/><line x1="293.5" y1="153.5" x2="295.5" y2="153.5" stroke="#222" stroke-width="1"/><line x1="293.5" y1="158.5" x2="295.5" y2="158.5" stroke="#222" stroke-width="1"/><line x1="293.5" y1="164.5" x2="295.5" y2="164.5" stroke="#222" stroke-width="1"/><line x1="293.5" y1="169.5" x2="295.5" y2="169.5" stroke="#222" stroke-width="1"/><line x1="293.5" y1="174.5" x2="295.5" y2="174.5" stroke="#222" stroke-width="1"/><line x1="293.5" y1="180.5" x2="295.5" y2="180.5" stroke="#222" stroke-width="1"/><line x1="293.5" y1="185.5" x2="295.5" y2="185.5" stroke="#222" stroke-width="1"/><line x1="293.5" y1="191.5" x2="295.5" y2="191.5" stroke="#222" stroke-width="1"/><line x1="293.5" y1="196.5" x2="295.5" y2="196.5" stroke="#222" stroke-width="1"/><line x1="293.5" y1="201.5" x2="295.5" y2="201.5" stroke="#222" stroke-width="1"/><line x1="293.5" y1="207.5" x2="295.5" y2="207.5" stroke="#222" stroke-width="1"/><line x1="293.5" y1="212.5" x2="295.5" y2="212.5" stroke="#222" stroke-width="1"/><line x1="293.5" y1="218.5" x2="295.5" y2="218.5" stroke="#222" stroke-width="1"/><rect x="408.5" y="130.5" width="104.0" height="86.0" fill="none" stroke="#111" stroke-width="1"/><line x1="491.5" y1="130.5" x2="491.5" y2="216.5" stroke="#222" stroke-width="1"/><line x1="408.5" y1="171.5" x2="512.5" y2="171.5" stroke="#222" stroke-width="1"/><line x1="406.5" y1="130.5" x2="408.5" y2="130.5" stroke="#222" stroke-width="1"/><line x1="406.5" y1="136.5" x2="408.5" y2="136.5" stroke="#222" stroke-width="1"/><line x1="406.5" y1="141.5" x2="408.5" y2="141.5" stroke="#222" stroke-width="1"/><line x1="406.5" y1="147.5" x2="408.5" y2="147.5" stroke="#222" stroke-width="1"/><line x1="406.5" y1="152.5" x2="408.5" y2="152.5" stroke="#222" stroke-width="1"/><line x1="406.5" y1="157.5" x2="408.5" y2="157.5" stroke="#222" stroke-width="1"/><line x1="406.5" y1="163.5" x2="408.5" y2="163.5" stroke="#222" stroke-width="1"/><line x1="406.5" y1="168.5" x2="408.5" y2="168.5" stroke="#222" stroke-width="1"/><line x1="406.5" y1="174.5" x2="408.5" y2="174.5" stroke="#222" stroke-width="1"/><line x1="406.5" y1="179.5" x2="408.5" y2="179.5" stroke="#222" stroke-width="1"/><line x1="406.5" y1="184.5" x2="408.5" y2="184.5" stroke="#222" stroke-width="1"/><line x1="406.5" y1="190.5" x2="408.5" y2="190.5" stroke="#222" stroke-width="1"/><line x1="406.5" y1="195.5" x2="408.5" y2="195.5" stroke="#222" stroke-width="1"/><line x1="406.5" y1="200.5" x2="408.5" y2="200.5" stroke="#222" stroke-width="1"/><line x1="406.5" y1="206.5" x2="408.5" y2="206.5" stroke="#222" stroke-width="1"/><line x1="406.5" y1="211.5" x2="408.5" y2="211.5" stroke="#222" stroke-width="1"/><line x1="406.5" y1="216.5" x2="408.5" y2="216.5" stroke="#222" stroke-width="1"/><rect x="295.5" y="223.5" width="92.0" height="89.0" fill="none" stroke="#111" stroke-width="1"/><line x1="367.5" y1="223.5" x2="367.5" y2="312.5" stroke="#222" stroke-width="1"/><line x1="295.5" y1="265.5" x2="387.5" y2="265.5" stroke="#222" stroke-width="1"/><line x1="293.5" y1="224.5" x2="295.5" y2="224.5" stroke="#222" stroke-width="1"/><line x1="293.5" y1="229.5" x2="295.5" y2="229.5" stroke="#222" stroke-width="1"/><line x1="293.5" y1="235.5" x2="295.5" y2="235.5" stroke="#222" stroke-width="1"/><line x1="293.5" y1="240.5" x2="295.5" y2="240.5" stroke="#222" stroke-width="1"/><line x1="293.5" y1="246.5" x2="295.5" y2="246.5" stroke="#222" stroke-width="1"/><line x1="293.5" y1="251.5" x2="295.5" y2="251.5" stroke="#222" stroke-width="1"/><line x1="293.5" y1="257.5" x2="295.5" y2="257.5" stroke="#222" stroke-width="1"/><line x1="293.5" y1="262.5" x2="295.5" y2="262.5" stroke="#222" stroke-width="1"/><line x1="293.5" y1="268.5" x2="295.5" y2="268.5" stroke="#222" stroke-width="1"/><line x1="293.5" y1="274.5" x2="295.5" y2="274.5" stroke="#222" stroke-width="1"/><line x1="293.5" y1="279.5" x2="295.5" y2="279.5" stroke="#222" stroke-width="1"/><line x1="293.5" y1="285.5" x2="295.5" y2="285.5" stroke="#222" stroke-width="1"/><line x1="293.5" y1="290.5" x2="295.5" y2="290.5" stroke="#222" stroke-width="1"/><line x1="293.5" y1="296.5" x2="295.5" y2="296.5" stroke="#222" stroke-width="1"/><line x1="293.5" y1="301.5" x2="295.5" y2="301.5" stroke="#222" stroke-width="1"/><line x1="293.5" y1="307.5" x2="295.5" y2="307.5" stroke="#222" stroke-width="1"/><line x1="293.5" y1="312.5" x2="295.5" y2="312.5" stroke="#222" stroke-width="1"/><rect x="408.5" y="224.5" width="104.0" height="88.0" fill="none" stroke="#111" stroke-width="1"/><line x1="490.5" y1="224.5" x2="490.5" y2="312.5" stroke="#222" stroke-width="1"/><line x1="408.5" y1="258.5" x2="512.5" y2="258.5" stroke="#222" stroke-width="1"/><line x1="406.5" y1="224.5" x2="408.5" y2="224.5" stroke="#222" stroke-width="1"/><line x1="406.5" y1="230.5" x2="408.5" y2="230.5" stroke="#222" stroke-width="1"/><line x1="406.5" y1="236.5" x2="408.5" y2="236.5" stroke="#222" stroke-width="1"/><line x1="406.5" y1="241.5" x2="408.5" y2="241.5" stroke="#222" stroke-width="1"/><line x1="406.5" y1="246.5" x2="408.5" y2="246.5" stroke="#222" stroke-width="1"/><line x1="406.5" y1="252.5" x2="408.5" y2="252.5" stroke="#222" stroke-width="1"/><line x1="406.5" y1="258.5" x2="408.5" y2="258.5" stroke="#222" stroke-width="1"/><line x1="406.5" y1="263.5" x2="408.5" y2="263.5" stroke="#222" stroke-width="1"/><line x1="406.5" y1="268.5" x2="408.5" y2="268.5" stroke="#222" stroke-width="1"/><line x1="406.5" y1="274.5" x2="408.5" y2="274.5" stroke="#222" stroke-width="1"/><line x1="406.5" y1="280.5" x2="408.5" y2="280.5" stroke="#222" stroke-width="1"/><line x1="406.5" y1="285.5" x2="408.5" y2="285.5" stroke="#222" stroke-width="1"/><line x1="406.5" y1="290.5" x2="408.5" y2="290.5" stroke="#222" stroke-width="1"/><line x1="406.5" y1="296.5" x2="408.5" y2="296.5" stroke="#222" stroke-width="1"/><line x1="406.5" y1="302.5" x2="408.5" y2="302.5" stroke="#222" stroke-width="1"/><line x1="406.5" y1="307.5" x2="408.5" y2="307.5" stroke="#222" stroke-width="1"/><line x1="406.5" y1="312.5" x2="408.5" y2="312.5" stroke="#222" stroke-width="1"/><rect x="293.5" y="321.5" width="94.0" height="87.0" fill="none" stroke="#111" stroke-width="1"/><line x1="367.5" y1="321.5" x2="367.5" y2="408.5" stroke="#222" stroke-width="1"/><line x1="293.5" y1="367.5" x2="387.5" y2="367.5" stroke="#222" stroke-width="1"/><line x1="291.5" y1="322.5" x2="293.5" y2="322.5" stroke="#222" stroke-width="1"/><line x1="291.5" y1="327.5" x2="293.5" y2="327.5" stroke="#222" stroke-width="1"/><line x1="291.5" y1="332.5" x2="293.5" y2="332.5" stroke="#222" stroke-width="1"/><line x1="291.5" y1="338.5" x2="293.5" y2="338.5" stroke="#222" stroke-width="1"/><line x1="291.5" y1="343.5" x2="293.5" y2="343.5" stroke="#222" stroke-width="1"/><line x1="291.5" y1="349.5" x2="293.5" y2="349.5" stroke="#222" stroke-width="1"/><line x1="291.5" y1="354.5" x2="293.5" y2="354.5" stroke="#222" stroke-width="1"/><line x1="291.5" y1="360.5" x2="293.5" y2="360.5" stroke="#222" stroke-width="1"/><line x1="291.5" y1="365.5" x2="293.5" y2="365.5" stroke="#222" stroke-width="1"/><line x1="291.5" y1="370.5" x2="293.5" y2="370.5" stroke="#222" stroke-width="1"/><line x1="291.5" y1="376.5" x2="293.5" y2="376.5" stroke="#222" stroke-width="1"/><line x1="291.5" y1="381.5" x2="293.5" y2="381.5" stroke="#222" stroke-width="1"/><line x1="291.5" y1="387.5" x2="293.5" y2="387.5" stroke="#222" stroke-width="1"/><line x1="291.5" y1="392.5" x2="293.5" y2="392.5" stroke="#222" stroke-width="1"/><line x1="291.5" y1="398.5" x2="293.5" y2="398.5" stroke="#222" stroke-width="1"/><line x1="291.5" y1="403.5" x2="293.5" y2="403.5" stroke="#222" stroke-width="1"/><line x1="291.5" y1="408.5" x2="293.5" y2="408.5" stroke="#222" stroke-width="1"/><rect x="408.5" y="319.5" width="104.0" height="86.0" fill="none" stroke="#111" stroke-width="1"/><line x1="491.5" y1="319.5" x2="491.5" y2="405.5" stroke="#222" stroke-width="1"/><line x1="408.5" y1="358.5" x2="512.5" y2="358.5" stroke="#222" stroke-width="1"/><line x1="406.5" y1="320.5" x2="408.5" y2="320.5" stroke="#222" stroke-width="1"/><line x1="406.5" y1="325.5" x2="408.5" y2="325.5" stroke="#222" stroke-width="1"/><line x1="406.5" y1="330.5" x2="408.5" y2="330.5" stroke="#222" stroke-width="1"/><line x1="406.5" y1="336.5" x2="408.5" y2="336.5" stroke="#222" stroke-width="1"/><line x1="406.5" y1="341.5" x2="408.5" y2="341.5" stroke="#222" stroke-width="1"/><line x1="406.5" y1="346.5" x2="408.5" y2="346.5" stroke="#222" stroke-width="1"/><line x1="406.5" y1="352.5" x2="408.5" y2="352.5" stroke="#222" stroke-width="1"/><line x1="406.5" y1="357.5" x2="408.5" y2="357.5" stroke="#222" stroke-width="1"/><line x1="406.5" y1="362.5" x2="408.5" y2="362.5" stroke="#222" stroke-width="1"/><line x1="406.5" y1="368.5" x2="408.5" y2="368.5" stroke="#222" stroke-width="1"/><line x1="406.5" y1="373.5" x2="408.5" y2="373.5" stroke="#222" stroke-width="1"/><line x1="406.5" y1="379.5" x2="408.5" y2="379.5" stroke="#222" stroke-width="1"/><line x1="406.5" y1="384.5" x2="408.5" y2="384.5" stroke="#222" stroke-width="1"/><line x1="406.5" y1="389.5" x2="408.5" y2="389.5" stroke="#222" stroke-width="1"/><line x1="406.5" y1="395.5" x2="408.5" y2="395.5" stroke="#222" stroke-width="1"/><line x1="406.5" y1="400.5" x2="408.5" y2="400.5" stroke="#222" stroke-width="1"/><line x1="406.5" y1="406.5" x2="408.5" y2="406.5" stroke="#222" stroke-width="1"/><text x="310" y="17.5" font-size="9.5" fill="#000" stroke="#000" stroke-width="0.08">R4</text><text x="461" y="58.8" font-size="10" fill="#000" stroke="#000" stroke-width="0.08">R3</text><text x="377" y="120.6" font-size="10" textLength="42.4" lengthAdjust="spacingAndGlyphs" fill="#000" stroke="#000" stroke-width="0.08">CD38-PE</text><text x="298.5" y="143" font-size="11.5" textLength="51" lengthAdjust="spacingAndGlyphs" fill="#000" stroke="#000" stroke-width="0.18">Untreated</text><text x="413.5" y="142.6" font-size="11.5" textLength="49" lengthAdjust="spacingAndGlyphs" fill="#000" stroke="#000" stroke-width="0.18">Untreated</text><text x="372.4" y="140.5" font-size="8.5" textLength="15" lengthAdjust="spacingAndGlyphs" fill="#000" stroke="#000" stroke-width="0.0">5 %</text><text x="413.6" y="181.8" font-size="8.5" textLength="21.5" lengthAdjust="spacingAndGlyphs" fill="#000" stroke="#000" stroke-width="0.0">75 %</text><text x="299.7" y="234" font-size="11.5" textLength="27" lengthAdjust="spacingAndGlyphs" fill="#000" stroke="#000" stroke-width="0.18">IFN-β</text><text x="413.2" y="235.5" font-size="11.5" textLength="26.5" lengthAdjust="spacingAndGlyphs" fill="#000" stroke="#000" stroke-width="0.18">IFN-β</text><text x="368.9" y="231.5" font-size="8.5" textLength="16" lengthAdjust="spacingAndGlyphs" fill="#000" stroke="#000" stroke-width="0.0">7 %</text><text x="413.6" y="267.8" font-size="8.5" textLength="21.5" lengthAdjust="spacingAndGlyphs" fill="#000" stroke="#000" stroke-width="0.0">23%</text><text x="295.9" y="335.5" font-size="11.5" textLength="35.3" lengthAdjust="spacingAndGlyphs" fill="#000" stroke="#000" stroke-width="0.18">Apo2L</text><text x="413.2" y="334.5" font-size="11.5" textLength="36" lengthAdjust="spacingAndGlyphs" fill="#000" stroke="#000" stroke-width="0.18">Apo2L</text><text x="368.4" y="330.7" font-size="8.5" textLength="15.3" lengthAdjust="spacingAndGlyphs" fill="#000" stroke="#000" stroke-width="0.0">7 %</text><text x="413.6" y="370.6" font-size="8.5" textLength="22.5" lengthAdjust="spacingAndGlyphs" fill="#000" stroke="#000" stroke-width="0.0">13%</text><text x="282.6" y="220.9" font-size="12" transform="rotate(-90 282.6 220.9)" textLength="62.5" lengthAdjust="spacingAndGlyphs" fill="#000" stroke="#000" stroke-width="0.18">CD45-PreCP</text><text x="356" y="427.5" font-size="10" textLength="36.5" lengthAdjust="spacingAndGlyphs" fill="#000" stroke="#000" stroke-width="0.08">Annexin</text><text x="408" y="428.8" font-size="10" textLength="28.5" lengthAdjust="spacingAndGlyphs" fill="#000" stroke="#000" stroke-width="0.08">V-FITC</text><text x="296" y="108" font-size="8" text-anchor="middle" fill="#111">10<tspan font-size="5.8" dy="-3.6">0</tspan></text><text x="317" y="108" font-size="8" text-anchor="middle" fill="#111">10<tspan font-size="5.8" dy="-3.6">1</tspan></text><text x="340" y="108" font-size="8" text-anchor="middle" fill="#111">10<tspan font-size="5.8" dy="-3.6">2</tspan></text><text x="362.5" y="108" font-size="8" text-anchor="middle" fill="#111">10<tspan font-size="5.8" dy="-3.6">3</tspan></text><text x="387.5" y="108" font-size="8" text-anchor="middle" fill="#111">10<tspan font-size="5.8" dy="-3.6">4</tspan></text><text x="410" y="107.5" font-size="8" text-anchor="middle" fill="#111">10<tspan font-size="5.8" dy="-3.6">0</tspan></text><text x="435" y="107.5" font-size="8" text-anchor="middle" fill="#111">10<tspan font-size="5.8" dy="-3.6">1</tspan></text><text x="462.5" y="107.5" font-size="8" text-anchor="middle" fill="#111">10<tspan font-size="5.8" dy="-3.6">2</tspan></text><text x="488.75" y="107.5" font-size="8" text-anchor="middle" fill="#111">10<tspan font-size="5.8" dy="-3.6">3</tspan></text><text x="512" y="107.5" font-size="8" text-anchor="middle" fill="#111">10<tspan font-size="5.8" dy="-3.6">4</tspan></text><text x="296" y="420" font-size="7.5" text-anchor="middle" fill="#111">10<tspan font-size="5.4" dy="-3.4">0</tspan></text><text x="317" y="420" font-size="7.5" text-anchor="middle" fill="#111">10<tspan font-size="5.4" dy="-3.4">1</tspan></text><text x="339" y="420" font-size="7.5" text-anchor="middle" fill="#111">10<tspan font-size="5.4" dy="-3.4">2</tspan></text><text x="359" y="420" font-size="7.5" text-anchor="middle" fill="#111">10<tspan font-size="5.4" dy="-3.4">3</tspan></text><text x="382.5" y="420" font-size="7.5" text-anchor="middle" fill="#111">10<tspan font-size="5.4" dy="-3.4">4</tspan></text><text x="415" y="415.5" font-size="7.5" text-anchor="middle" fill="#111">10<tspan font-size="5.4" dy="-3.4">0</tspan></text><text x="436.5" y="415.5" font-size="7.5" text-anchor="middle" fill="#111">10<tspan font-size="5.4" dy="-3.4">1</tspan></text><text x="462.5" y="415.5" font-size="7.5" text-anchor="middle" fill="#111">10<tspan font-size="5.4" dy="-3.4">2</tspan></text><text x="486.5" y="415.5" font-size="7.5" text-anchor="middle" fill="#111">10<tspan font-size="5.4" dy="-3.4">3</tspan></text><text x="507.5" y="415.5" font-size="7.5" text-anchor="middle" fill="#111">10<tspan font-size="5.4" dy="-3.4">4</tspan></text><text x="288.5" y="213.2" font-size="6.5" text-anchor="middle" fill="#111" transform="rotate(-90 288.5 213.2)">10<tspan font-size="4.7" dy="-2.9">0</tspan></text><text x="288.5" y="197.72" font-size="6.5" text-anchor="middle" fill="#111" transform="rotate(-90 288.5 197.72)">10<tspan font-size="4.7" dy="-2.9">1</tspan></text><text x="288.5" y="176.22" font-size="6.5" text-anchor="middle" fill="#111" transform="rotate(-90 288.5 176.22)">10<tspan font-size="4.7" dy="-2.9">2</tspan></text><text x="288.5" y="156.44" font-size="6.5" text-anchor="middle" fill="#111" transform="rotate(-90 288.5 156.44)">10<tspan font-size="4.7" dy="-2.9">3</tspan></text><text x="288.5" y="133.22" font-size="6.5" text-anchor="middle" fill="#111" transform="rotate(-90 288.5 133.22)">10<tspan font-size="4.7" dy="-2.9">4</tspan></text><text x="288.5" y="308.05" font-size="6.5" text-anchor="middle" fill="#111" transform="rotate(-90 288.5 308.05)">10<tspan font-size="4.7" dy="-2.9">0</tspan></text><text x="288.5" y="292.03" font-size="6.5" text-anchor="middle" fill="#111" transform="rotate(-90 288.5 292.03)">10<tspan font-size="4.7" dy="-2.9">1</tspan></text><text x="288.5" y="269.78" font-size="6.5" text-anchor="middle" fill="#111" transform="rotate(-90 288.5 269.78)">10<tspan font-size="4.7" dy="-2.9">2</tspan></text><text x="288.5" y="249.31" font-size="6.5" text-anchor="middle" fill="#111" transform="rotate(-90 288.5 249.31)">10<tspan font-size="4.7" dy="-2.9">3</tspan></text><text x="288.5" y="225.28" font-size="6.5" text-anchor="middle" fill="#111" transform="rotate(-90 288.5 225.28)">10<tspan font-size="4.7" dy="-2.9">4</tspan></text><text x="288.5" y="404.15" font-size="6.5" text-anchor="middle" fill="#111" transform="rotate(-90 288.5 404.15)">10<tspan font-size="4.7" dy="-2.9">0</tspan></text><text x="288.5" y="388.49" font-size="6.5" text-anchor="middle" fill="#111" transform="rotate(-90 288.5 388.49)">10<tspan font-size="4.7" dy="-2.9">1</tspan></text><text x="288.5" y="366.74" font-size="6.5" text-anchor="middle" fill="#111" transform="rotate(-90 288.5 366.74)">10<tspan font-size="4.7" dy="-2.9">2</tspan></text><text x="288.5" y="346.73" font-size="6.5" text-anchor="middle" fill="#111" transform="rotate(-90 288.5 346.73)">10<tspan font-size="4.7" dy="-2.9">3</tspan></text><text x="288.5" y="323.24" font-size="6.5" text-anchor="middle" fill="#111" transform="rotate(-90 288.5 323.24)">10<tspan font-size="4.7" dy="-2.9">4</tspan></text><text x="402" y="213.92000000000002" font-size="6.5" text-anchor="middle" fill="#111" transform="rotate(-90 402 213.92000000000002)">10<tspan font-size="4.7" dy="-2.9">0</tspan></text><text x="402" y="195.86" font-size="6.5" text-anchor="middle" fill="#111" transform="rotate(-90 402 195.86)">10<tspan font-size="4.7" dy="-2.9">1</tspan></text><text x="402" y="173.5" font-size="6.5" text-anchor="middle" fill="#111" transform="rotate(-90 402 173.5)">10<tspan font-size="4.7" dy="-2.9">2</tspan></text><text x="402" y="152.86" font-size="6.5" text-anchor="middle" fill="#111" transform="rotate(-90 402 152.86)">10<tspan font-size="4.7" dy="-2.9">3</tspan></text><text x="402" y="132.22" font-size="6.5" text-anchor="middle" fill="#111" transform="rotate(-90 402 132.22)">10<tspan font-size="4.7" dy="-2.9">4</tspan></text><text x="402" y="309.845" font-size="6.5" text-anchor="middle" fill="#111" transform="rotate(-90 402 309.845)">10<tspan font-size="4.7" dy="-2.9">0</tspan></text><text x="402" y="291.26" font-size="6.5" text-anchor="middle" fill="#111" transform="rotate(-90 402 291.26)">10<tspan font-size="4.7" dy="-2.9">1</tspan></text><text x="402" y="268.25" font-size="6.5" text-anchor="middle" fill="#111" transform="rotate(-90 402 268.25)">10<tspan font-size="4.7" dy="-2.9">2</tspan></text><text x="402" y="247.01" font-size="6.5" text-anchor="middle" fill="#111" transform="rotate(-90 402 247.01)">10<tspan font-size="4.7" dy="-2.9">3</tspan></text><text x="402" y="225.77" font-size="6.5" text-anchor="middle" fill="#111" transform="rotate(-90 402 225.77)">10<tspan font-size="4.7" dy="-2.9">4</tspan></text><text x="402" y="402.905" font-size="6.5" text-anchor="middle" fill="#111" transform="rotate(-90 402 402.905)">10<tspan font-size="4.7" dy="-2.9">0</tspan></text><text x="402" y="384.74" font-size="6.5" text-anchor="middle" fill="#111" transform="rotate(-90 402 384.74)">10<tspan font-size="4.7" dy="-2.9">1</tspan></text><text x="402" y="362.25" font-size="6.5" text-anchor="middle" fill="#111" transform="rotate(-90 402 362.25)">10<tspan font-size="4.7" dy="-2.9">2</tspan></text><text x="402" y="341.49" font-size="6.5" text-anchor="middle" fill="#111" transform="rotate(-90 402 341.49)">10<tspan font-size="4.7" dy="-2.9">3</tspan></text><text x="402" y="320.73" font-size="6.5" text-anchor="middle" fill="#111" transform="rotate(-90 402 320.73)">10<tspan font-size="4.7" dy="-2.9">4</tspan></text><text x="402" y="93.86" font-size="6.5" text-anchor="middle" fill="#111" transform="rotate(-90 402 93.86)">10<tspan font-size="4.7" dy="-2.9">0</tspan></text><text x="402" y="75.38" font-size="6.5" text-anchor="middle" fill="#111" transform="rotate(-90 402 75.38)">10<tspan font-size="4.7" dy="-2.9">1</tspan></text><text x="402" y="52.5" font-size="6.5" text-anchor="middle" fill="#111" transform="rotate(-90 402 52.5)">10<tspan font-size="4.7" dy="-2.9">2</tspan></text><text x="402" y="31.380000000000003" font-size="6.5" text-anchor="middle" fill="#111" transform="rotate(-90 402 31.380000000000003)">10<tspan font-size="4.7" dy="-2.9">3</tspan></text><text x="402" y="10.26" font-size="6.5" text-anchor="middle" fill="#111" transform="rotate(-90 402 10.26)">10<tspan font-size="4.7" dy="-2.9">4</tspan></text><rect x="315.5" y="438.5" width="175.5" height="110.5" fill="none" stroke="#555" stroke-width="1"/><text x="312" y="552.2" font-size="9" text-anchor="end" textLength="4.8" lengthAdjust="spacingAndGlyphs" fill="#000" stroke="#000" stroke-width="0.08">0</text><text x="312" y="541.0300000000001" font-size="9" text-anchor="end" textLength="9.6" lengthAdjust="spacingAndGlyphs" fill="#000" stroke="#000" stroke-width="0.08">10</text><line x1="315.5" y1="538.5" x2="319" y2="538.5" stroke="#333" stroke-width="1"/><text x="312" y="529.86" font-size="9" text-anchor="end" textLength="9.6" lengthAdjust="spacingAndGlyphs" fill="#000" stroke="#000" stroke-width="0.08">20</text><line x1="315.5" y1="527.5" x2="319" y2="527.5" stroke="#333" stroke-width="1"/><text x="312" y="518.69" font-size="9" text-anchor="end" textLength="9.6" lengthAdjust="spacingAndGlyphs" fill="#000" stroke="#000" stroke-width="0.08">30</text><line x1="315.5" y1="515.5" x2="319" y2="515.5" stroke="#333" stroke-width="1"/><text x="312" y="507.52" font-size="9" text-anchor="end" textLength="9.6" lengthAdjust="spacingAndGlyphs" fill="#000" stroke="#000" stroke-width="0.08">40</text><line x1="315.5" y1="504.5" x2="319" y2="504.5" stroke="#333" stroke-width="1"/><text x="312" y="496.34999999999997" font-size="9" text-anchor="end" textLength="9.6" lengthAdjust="spacingAndGlyphs" fill="#000" stroke="#000" stroke-width="0.08">50</text><line x1="315.5" y1="493.5" x2="319" y2="493.5" stroke="#333" stroke-width="1"/><text x="312" y="485.18" font-size="9" text-anchor="end" textLength="9.6" lengthAdjust="spacingAndGlyphs" fill="#000" stroke="#000" stroke-width="0.08">60</text><line x1="315.5" y1="482.5" x2="319" y2="482.5" stroke="#333" stroke-width="1"/><text x="312" y="474.01" font-size="9" text-anchor="end" textLength="9.6" lengthAdjust="spacingAndGlyphs" fill="#000" stroke="#000" stroke-width="0.08">70</text><line x1="315.5" y1="471.5" x2="319" y2="471.5" stroke="#333" stroke-width="1"/><text x="312" y="462.84" font-size="9" text-anchor="end" textLength="9.6" lengthAdjust="spacingAndGlyphs" fill="#000" stroke="#000" stroke-width="0.08">80</text><line x1="315.5" y1="460.5" x2="319" y2="460.5" stroke="#333" stroke-width="1"/><text x="312" y="451.67" font-size="9" text-anchor="end" textLength="9.6" lengthAdjust="spacingAndGlyphs" fill="#000" stroke="#000" stroke-width="0.08">90</text><line x1="315.5" y1="448.5" x2="319" y2="448.5" stroke="#333" stroke-width="1"/><text x="324.0" y="560.5" font-size="9" text-anchor="middle" fill="#000" stroke="#000" stroke-width="0.08">1</text><text x="341.66" y="560.5" font-size="9" text-anchor="middle" fill="#000" stroke="#000" stroke-width="0.08">2</text><text x="359.32" y="560.5" font-size="9" text-anchor="middle" fill="#000" stroke="#000" stroke-width="0.08">3</text><text x="376.98" y="560.5" font-size="9" text-anchor="middle" fill="#000" stroke="#000" stroke-width="0.08">4</text><text x="394.64" y="560.5" font-size="9" text-anchor="middle" fill="#000" stroke="#000" stroke-width="0.08">5</text><text x="412.3" y="560.5" font-size="9" text-anchor="middle" fill="#000" stroke="#000" stroke-width="0.08">6</text><text x="429.96000000000004" y="560.5" font-size="9" text-anchor="middle" fill="#000" stroke="#000" stroke-width="0.08">7</text><text x="447.62" y="560.5" font-size="9" text-anchor="middle" fill="#000" stroke="#000" stroke-width="0.08">8</text><text x="465.28" y="560.5" font-size="9" text-anchor="middle" fill="#000" stroke="#000" stroke-width="0.08">9</text><text x="482.94" y="560.5" font-size="9" text-anchor="middle" fill="#000" stroke="#000" stroke-width="0.08">10</text><text x="381.5" y="572.5" font-size="11" textLength="41" lengthAdjust="spacingAndGlyphs" fill="#000" stroke="#000" stroke-width="0.18">Patients</text><text x="296" y="529" font-size="11" transform="rotate(-90 296 529)" textLength="71" lengthAdjust="spacingAndGlyphs" fill="#000" stroke="#000" stroke-width="0.18">Apoptosis (%)</text><polyline points="324.0,539.7 341.7,545.9 359.3,538.7 377.0,545.9 394.6,543.4 412.3,542.9 430.0,541.7 447.6,540.9 465.3,545.9 482.9,542.9" fill="none" stroke="#000" stroke-width="1"/><polyline points="324.0,532.9 341.7,520.8 359.3,506.0 377.0,522.1 394.6,515.3 412.3,520.8 430.0,508.3 447.6,522.8 465.3,525.4 482.9,522.8" fill="none" stroke="#000" stroke-width="1"/><polyline points="324.0,529.9 341.7,491.0 359.3,514.8 377.0,532.9 394.6,515.3 412.3,454.6 430.0,453.8 447.6,519.1 465.3,494.7 482.9,531.6" fill="none" stroke="#000" stroke-width="1"/><path d="M324.0 537.6L326.1 539.7L324.0 541.8L321.9 539.7Z" fill="#000"/><path d="M341.7 543.8L343.8 545.9L341.7 548.0L339.6 545.9Z" fill="#000"/><path d="M359.3 536.6L361.4 538.7L359.3 540.8L357.2 538.7Z" fill="#000"/><path d="M377.0 543.8L379.1 545.9L377.0 548.0L374.9 545.9Z" fill="#000"/><path d="M394.6 541.3L396.7 543.4L394.6 545.5L392.5 543.4Z" fill="#000"/><path d="M412.3 540.8L414.4 542.9L412.3 545.0L410.2 542.9Z" fill="#000"/><path d="M430.0 539.6L432.1 541.7L430.0 543.8L427.9 541.7Z" fill="#000"/><path d="M447.6 538.8L449.7 540.9L447.6 543.0L445.5 540.9Z" fill="#000"/><path d="M465.3 543.8L467.4 545.9L465.3 548.0L463.2 545.9Z" fill="#000"/><path d="M482.9 540.8L485.0 542.9L482.9 545.0L480.8 542.9Z" fill="#000"/><rect x="322.3" y="531.2" width="3.4" height="3.4" fill="#fff" stroke="#000" stroke-width="0.9"/><rect x="340.0" y="519.1" width="3.4" height="3.4" fill="#fff" stroke="#000" stroke-width="0.9"/><rect x="357.6" y="504.3" width="3.4" height="3.4" fill="#fff" stroke="#000" stroke-width="0.9"/><rect x="375.3" y="520.4" width="3.4" height="3.4" fill="#fff" stroke="#000" stroke-width="0.9"/><rect x="392.9" y="513.6" width="3.4" height="3.4" fill="#fff" stroke="#000" stroke-width="0.9"/><rect x="410.6" y="519.1" width="3.4" height="3.4" fill="#fff" stroke="#000" stroke-width="0.9"/><rect x="428.3" y="506.6" width="3.4" height="3.4" fill="#fff" stroke="#000" stroke-width="0.9"/><rect x="445.9" y="521.1" width="3.4" height="3.4" fill="#fff" stroke="#000" stroke-width="0.9"/><rect x="463.6" y="523.7" width="3.4" height="3.4" fill="#fff" stroke="#000" stroke-width="0.9"/><rect x="481.2" y="521.1" width="3.4" height="3.4" fill="#fff" stroke="#000" stroke-width="0.9"/><path d="M324.0 527.7L326.2 531.7L321.8 531.7Z" fill="#fff" stroke="#000" stroke-width="0.9"/><path d="M341.7 488.8L343.9 492.8L339.5 492.8Z" fill="#fff" stroke="#000" stroke-width="0.9"/><path d="M359.3 512.6L361.5 516.6L357.1 516.6Z" fill="#fff" stroke="#000" stroke-width="0.9"/><path d="M377.0 530.7L379.2 534.7L374.8 534.7Z" fill="#fff" stroke="#000" stroke-width="0.9"/><path d="M394.6 513.1L396.8 517.1L392.4 517.1Z" fill="#fff" stroke="#000" stroke-width="0.9"/><path d="M412.3 452.4L414.5 456.4L410.1 456.4Z" fill="#fff" stroke="#000" stroke-width="0.9"/><path d="M430.0 451.6L432.2 455.6L427.8 455.6Z" fill="#fff" stroke="#000" stroke-width="0.9"/><path d="M447.6 516.9L449.8 520.9L445.4 520.9Z" fill="#fff" stroke="#000" stroke-width="0.9"/><path d="M465.3 492.5L467.5 496.5L463.1 496.5Z" fill="#fff" stroke="#000" stroke-width="0.9"/><path d="M482.9 529.4L485.1 533.4L480.7 533.4Z" fill="#fff" stroke="#000" stroke-width="0.9"/><line x1="440.2" y1="445.6" x2="452.7" y2="445.6" stroke="#000" stroke-width="1"/><path d="M446.5 443.5L448.6 445.6L446.5 447.7L444.4 445.6Z" fill="#000"/><text x="454.5" y="448.8" font-size="9" textLength="36" lengthAdjust="spacingAndGlyphs" fill="#000" stroke="#000" stroke-width="0.08">untreated</text><line x1="440.2" y1="453.8" x2="452.7" y2="453.8" stroke="#000" stroke-width="1"/><rect x="444.8" y="452.1" width="3.4" height="3.4" fill="#fff" stroke="#000" stroke-width="0.9"/><text x="454.5" y="457.0" font-size="9" textLength="19" lengthAdjust="spacingAndGlyphs" fill="#000" stroke="#000" stroke-width="0.08">IFN-α</text><line x1="440.2" y1="467.1" x2="452.7" y2="467.1" stroke="#000" stroke-width="1"/><path d="M446.5 464.9L448.7 468.9L444.3 468.9Z" fill="#fff" stroke="#000" stroke-width="0.9"/><text x="455.7" y="470.3" font-size="9" textLength="24.6" lengthAdjust="spacingAndGlyphs" fill="#000" stroke="#000" stroke-width="0.08">Apo2L</text>
</svg>
</body></html>
